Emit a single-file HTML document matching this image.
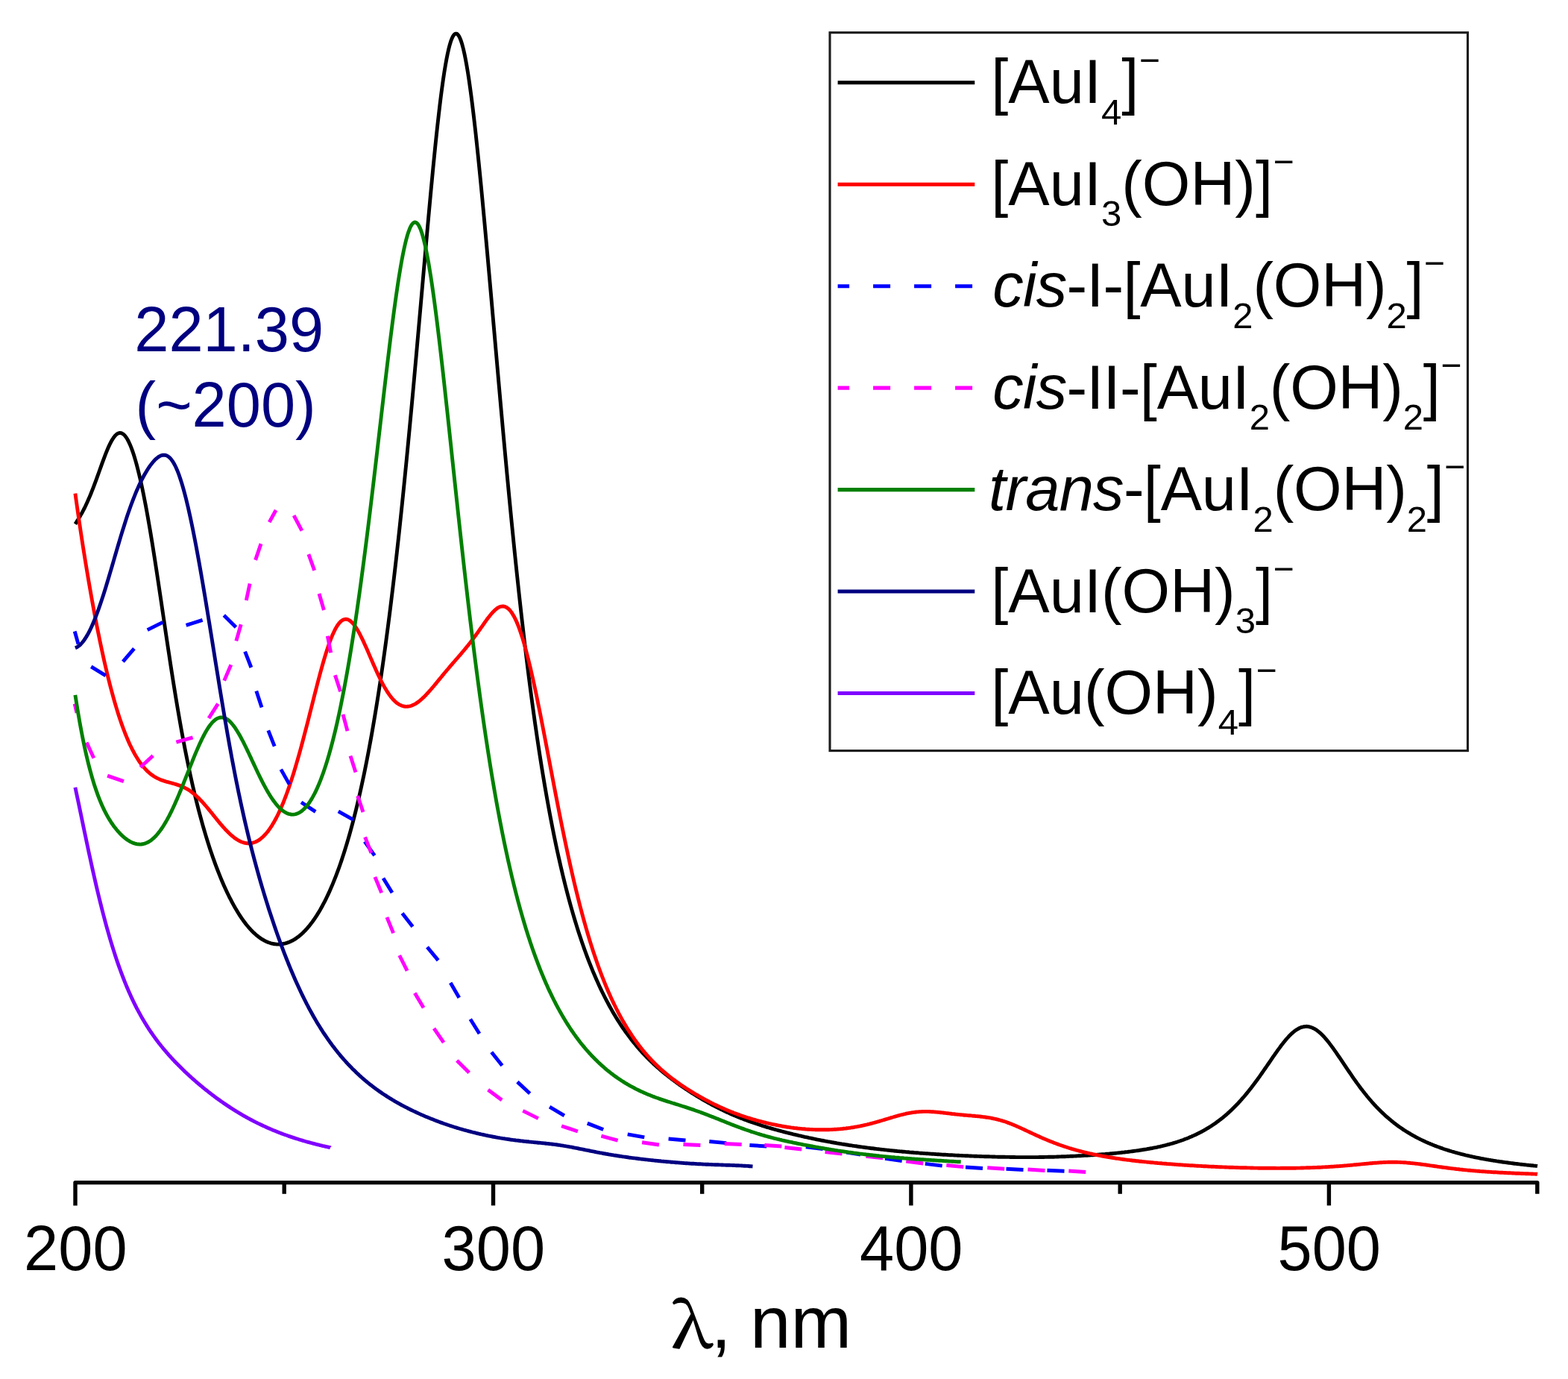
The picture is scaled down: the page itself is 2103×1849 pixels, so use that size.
<!DOCTYPE html>
<html lang="en">
<head>
<meta charset="utf-8">
<title>Calculated absorption spectra of gold(III) iodo-hydroxo complexes</title>
<style>
html,body{margin:0;padding:0;background:#fff;}
body{width:2103px;height:1849px;overflow:hidden;font-family:"Liberation Sans",Arial,sans-serif;}
svg{display:block;}
</style>
</head>
<body>
<svg xmlns="http://www.w3.org/2000/svg" width="2103" height="1849" viewBox="0 0 2103 1849" font-family="'Liberation Sans', Arial, sans-serif" fill="#000">
<rect width="2103" height="1849" fill="#fff"/>
<g id="curves">
<path d="M100.9,702.6 L102.4,700.3 L103.9,697.9 L105.4,695.5 L106.9,693.0 L108.4,690.4 L109.9,687.7 L111.4,684.9 L112.9,682.0 L114.4,679.0 L115.9,675.8 L117.4,672.5 L118.9,669.1 L120.4,665.6 L121.9,662.0 L123.4,658.2 L124.9,654.4 L126.4,650.4 L127.9,646.4 L129.4,642.3 L130.9,638.1 L132.4,634.0 L133.9,629.8 L135.4,625.6 L136.9,621.4 L138.4,617.3 L139.9,613.3 L141.4,609.4 L142.9,605.6 L144.4,602.0 L145.9,598.6 L147.4,595.4 L148.9,592.5 L150.4,589.8 L151.9,587.5 L153.4,585.4 L154.9,583.7 L156.4,582.3 L157.9,581.3 L159.4,580.7 L160.9,580.5 L162.4,580.6 L163.9,581.2 L165.4,582.2 L166.9,583.5 L168.4,585.3 L169.9,587.4 L171.4,590.0 L172.9,592.9 L174.4,596.2 L175.9,599.9 L177.4,603.9 L178.9,608.3 L180.4,613.1 L181.9,618.1 L183.4,623.5 L184.9,629.3 L186.4,635.3 L187.9,641.7 L189.4,648.3 L190.9,655.3 L192.4,662.5 L193.9,670.1 L195.4,677.8 L196.9,685.9 L198.4,694.2 L199.9,702.8 L201.4,711.5 L202.9,720.5 L204.4,729.7 L205.9,739.1 L207.4,748.6 L208.9,758.3 L210.4,768.1 L211.9,778.1 L213.4,788.1 L214.9,798.1 L216.4,808.2 L217.9,818.4 L219.4,828.5 L220.9,838.7 L222.4,848.8 L223.9,858.8 L225.4,868.8 L226.9,878.7 L228.4,888.6 L229.9,898.3 L231.4,907.9 L232.9,917.3 L234.4,926.6 L235.9,935.8 L237.4,944.8 L238.9,953.7 L240.4,962.3 L241.9,970.9 L243.4,979.2 L244.9,987.4 L246.4,995.4 L247.9,1003.2 L249.4,1010.8 L250.9,1018.3 L252.4,1025.6 L253.9,1032.8 L255.4,1039.7 L256.9,1046.5 L258.4,1053.2 L259.9,1059.6 L261.4,1066.0 L262.9,1072.2 L264.4,1078.2 L265.9,1084.1 L267.4,1089.8 L268.9,1095.4 L270.4,1100.9 L271.9,1106.3 L273.4,1111.5 L274.9,1116.6 L276.4,1121.6 L277.9,1126.5 L279.4,1131.2 L280.9,1135.9 L282.4,1140.4 L283.9,1144.8 L285.4,1149.2 L286.9,1153.4 L288.4,1157.6 L289.9,1161.6 L291.4,1165.5 L292.9,1169.4 L294.4,1173.2 L295.9,1176.9 L297.4,1180.5 L298.9,1184.0 L300.4,1187.4 L301.9,1190.7 L303.4,1194.0 L304.9,1197.2 L306.4,1200.3 L307.9,1203.3 L309.4,1206.2 L310.9,1209.1 L312.4,1211.9 L313.9,1214.6 L315.4,1217.3 L316.9,1219.8 L318.4,1222.3 L319.9,1224.7 L321.4,1227.1 L322.9,1229.4 L324.4,1231.6 L325.9,1233.7 L327.4,1235.7 L328.9,1237.7 L330.4,1239.7 L331.9,1241.5 L333.4,1243.3 L334.9,1245.0 L336.4,1246.6 L337.9,1248.2 L339.4,1249.7 L340.9,1251.1 L342.4,1252.5 L343.9,1253.8 L345.4,1255.0 L346.9,1256.2 L348.4,1257.3 L349.9,1258.4 L351.4,1259.3 L352.9,1260.2 L354.4,1261.1 L355.9,1261.8 L357.4,1262.6 L358.9,1263.2 L360.4,1263.8 L361.9,1264.3 L363.4,1264.8 L364.9,1265.1 L366.4,1265.5 L367.9,1265.7 L369.4,1265.9 L370.9,1266.1 L372.4,1266.1 L373.9,1266.1 L375.4,1266.1 L376.9,1266.0 L378.4,1265.8 L379.9,1265.5 L381.4,1265.2 L382.9,1264.9 L384.4,1264.4 L385.9,1263.9 L387.4,1263.4 L388.9,1262.7 L390.4,1262.0 L391.9,1261.3 L393.4,1260.5 L394.9,1259.6 L396.4,1258.6 L397.9,1257.6 L399.4,1256.5 L400.9,1255.4 L402.4,1254.1 L403.9,1252.8 L405.4,1251.5 L406.9,1250.1 L408.4,1248.6 L409.9,1247.0 L411.4,1245.4 L412.9,1243.6 L414.4,1241.9 L415.9,1240.0 L417.4,1238.1 L418.9,1236.1 L420.4,1234.0 L421.9,1231.8 L423.4,1229.6 L424.9,1227.3 L426.4,1224.9 L427.9,1222.4 L429.4,1219.9 L430.9,1217.2 L432.4,1214.5 L433.9,1211.7 L435.4,1208.8 L436.9,1205.9 L438.4,1202.8 L439.9,1199.6 L441.4,1196.4 L442.9,1193.0 L444.4,1189.6 L445.9,1186.1 L447.4,1182.4 L448.9,1178.7 L450.4,1174.9 L451.9,1170.9 L453.4,1166.9 L454.9,1162.7 L456.4,1158.5 L457.9,1154.1 L459.4,1149.6 L460.9,1145.0 L462.4,1140.3 L463.9,1135.4 L465.4,1130.5 L466.9,1125.4 L468.4,1120.2 L469.9,1114.8 L471.4,1109.4 L472.9,1103.8 L474.4,1098.0 L475.9,1092.1 L477.4,1086.1 L478.9,1079.9 L480.4,1073.6 L481.9,1067.2 L483.4,1060.5 L484.9,1053.7 L486.4,1046.8 L487.9,1039.7 L489.4,1032.4 L490.9,1025.0 L492.4,1017.4 L493.9,1009.6 L495.4,1001.6 L496.9,993.5 L498.4,985.2 L499.9,976.6 L501.4,967.9 L502.9,959.0 L504.4,949.9 L505.9,940.6 L507.4,931.1 L508.9,921.4 L510.4,911.5 L511.9,901.3 L513.4,891.0 L514.9,880.4 L516.4,869.6 L517.9,858.6 L519.4,847.3 L520.9,835.9 L522.4,824.2 L523.9,812.2 L525.4,800.0 L526.9,787.6 L528.4,775.0 L529.9,762.1 L531.4,749.0 L532.9,735.6 L534.4,722.0 L535.9,708.2 L537.4,694.1 L538.9,679.8 L540.4,665.3 L541.9,650.5 L543.4,635.6 L544.9,620.4 L546.4,605.0 L547.9,589.3 L549.4,573.5 L550.9,557.6 L552.4,541.4 L553.9,525.1 L555.4,508.6 L556.9,491.9 L558.4,475.2 L559.9,458.3 L561.4,441.4 L562.9,424.4 L564.4,407.4 L565.9,390.3 L567.4,373.2 L568.9,356.2 L570.4,339.2 L571.9,322.4 L573.4,305.6 L574.9,289.0 L576.4,272.7 L577.9,256.5 L579.4,240.7 L580.9,225.1 L582.4,209.9 L583.9,195.1 L585.4,180.8 L586.9,167.0 L588.4,153.7 L589.9,140.9 L591.4,128.8 L592.9,117.4 L594.4,106.7 L595.9,96.7 L597.4,87.6 L598.9,79.2 L600.4,71.7 L601.9,65.1 L603.4,59.4 L604.9,54.6 L606.4,50.8 L607.9,47.9 L609.4,46.0 L610.9,45.1 L612.4,45.1 L613.9,46.2 L615.4,48.2 L616.9,51.1 L618.4,55.0 L619.9,59.8 L621.4,65.5 L622.9,72.1 L624.4,79.5 L625.9,87.7 L627.4,96.7 L628.9,106.4 L630.4,116.8 L631.9,127.9 L633.4,139.6 L634.9,151.9 L636.4,164.7 L637.9,178.1 L639.4,191.9 L640.9,206.2 L642.4,220.9 L643.9,235.9 L645.4,251.3 L646.9,267.0 L648.4,282.9 L649.9,299.1 L651.4,315.5 L652.9,332.0 L654.4,348.7 L655.9,365.6 L657.4,382.5 L658.9,399.5 L660.4,416.6 L661.9,433.7 L663.4,450.8 L664.9,467.9 L666.4,484.9 L667.9,501.9 L669.4,518.9 L670.9,535.7 L672.4,552.5 L673.9,569.1 L675.4,585.7 L676.9,602.1 L678.4,618.3 L679.9,634.4 L681.4,650.3 L682.9,666.0 L684.4,681.6 L685.9,696.9 L687.4,712.1 L688.9,727.0 L690.4,741.7 L691.9,756.2 L693.4,770.5 L694.9,784.6 L696.4,798.5 L697.9,812.1 L699.4,825.5 L700.9,838.6 L702.4,851.5 L703.9,864.2 L705.4,876.7 L706.9,888.9 L708.4,900.9 L709.9,912.7 L711.4,924.3 L712.9,935.6 L714.4,946.7 L715.9,957.6 L717.4,968.3 L718.9,978.7 L720.4,989.0 L721.9,999.0 L723.4,1008.8 L724.9,1018.4 L726.4,1027.9 L727.9,1037.1 L729.4,1046.1 L730.9,1055.0 L732.4,1063.7 L733.9,1072.1 L735.4,1080.4 L736.9,1088.6 L738.4,1096.5 L739.9,1104.3 L741.4,1111.9 L742.9,1119.4 L744.4,1126.7 L745.9,1133.9 L747.4,1140.9 L748.9,1147.7 L750.4,1154.4 L751.9,1161.0 L753.4,1167.4 L754.9,1173.7 L756.4,1179.9 L757.9,1186.0 L759.4,1191.9 L760.9,1197.7 L762.4,1203.3 L763.9,1208.9 L765.4,1214.3 L766.9,1219.6 L768.4,1224.9 L769.9,1230.0 L771.4,1235.0 L772.9,1239.9 L774.4,1244.7 L775.9,1249.4 L777.4,1254.0 L778.9,1258.5 L780.4,1263.0 L781.9,1267.3 L783.4,1271.6 L784.9,1275.8 L786.4,1279.8 L787.9,1283.9 L789.4,1287.8 L790.9,1291.6 L792.4,1295.4 L793.9,1299.1 L795.4,1302.8 L796.9,1306.3 L798.4,1309.8 L799.9,1313.3 L801.4,1316.6 L802.9,1319.9 L804.4,1323.2 L805.9,1326.4 L807.4,1329.5 L808.9,1332.5 L810.4,1335.5 L811.9,1338.5 L813.4,1341.4 L814.9,1344.2 L816.4,1347.0 L817.9,1349.7 L819.4,1352.4 L820.9,1355.1 L822.4,1357.7 L823.9,1360.2 L825.4,1362.7 L826.9,1365.2 L828.4,1367.6 L829.9,1369.9 L831.4,1372.3 L832.9,1374.5 L834.4,1376.8 L835.9,1379.0 L837.4,1381.1 L838.9,1383.3 L840.4,1385.4 L841.9,1387.4 L843.4,1389.4 L844.9,1391.4 L846.4,1393.4 L847.9,1395.3 L849.4,1397.2 L850.9,1399.0 L852.4,1400.8 L853.9,1402.6 L855.4,1404.4 L856.9,1406.1 L858.4,1407.8 L859.9,1409.5 L861.4,1411.1 L862.9,1412.8 L864.4,1414.3 L865.9,1415.9 L867.4,1417.5 L868.9,1419.0 L870.4,1420.5 L871.9,1422.0 L873.4,1423.4 L874.9,1424.8 L876.4,1426.3 L877.9,1427.6 L879.4,1429.0 L880.9,1430.4 L882.4,1431.7 L883.9,1433.0 L885.4,1434.3 L886.9,1435.6 L888.4,1436.8 L889.9,1438.1 L891.4,1439.3 L892.9,1440.5 L894.4,1441.7 L895.9,1442.9 L897.4,1444.1 L898.9,1445.2 L900.4,1446.4 L901.9,1447.5 L903.4,1448.6 L904.9,1449.8 L906.4,1450.8 L907.9,1451.9 L909.4,1453.0 L910.9,1454.1 L912.4,1455.1 L913.9,1456.2 L915.4,1457.2 L916.9,1458.2 L918.4,1459.2 L919.9,1460.3 L921.4,1461.2 L922.9,1462.2 L924.4,1463.2 L925.9,1464.2 L927.4,1465.1 L928.9,1466.1 L930.4,1467.0 L931.9,1468.0 L933.4,1468.9 L934.9,1469.8 L936.4,1470.7 L937.9,1471.6 L939.4,1472.5 L940.9,1473.4 L942.4,1474.3 L943.9,1475.2 L945.4,1476.0 L946.9,1476.9 L948.4,1477.7 L949.9,1478.6 L951.4,1479.4 L952.9,1480.2 L954.4,1481.0 L955.9,1481.8 L957.4,1482.6 L958.9,1483.4 L960.4,1484.2 L961.9,1484.9 L963.4,1485.7 L964.9,1486.4 L966.4,1487.2 L967.9,1487.9 L969.4,1488.6 L970.9,1489.4 L972.4,1490.1 L973.9,1490.8 L975.4,1491.5 L976.9,1492.1 L978.4,1492.8 L979.9,1493.5 L981.4,1494.2 L982.9,1494.8 L984.4,1495.5 L985.9,1496.1 L987.4,1496.7 L988.9,1497.3 L990.4,1498.0 L991.9,1498.6 L993.4,1499.2 L994.9,1499.8 L996.4,1500.3 L997.9,1500.9 L999.4,1501.5 L1000.9,1502.0 L1002.4,1502.6 L1003.9,1503.2 L1005.4,1503.7 L1006.9,1504.2 L1008.4,1504.8 L1009.9,1505.3 L1011.4,1505.8 L1012.9,1506.3 L1014.4,1506.8 L1015.9,1507.3 L1017.4,1507.8 L1018.9,1508.3 L1020.4,1508.8 L1021.9,1509.3 L1023.4,1509.7 L1024.9,1510.2 L1026.4,1510.6 L1027.9,1511.1 L1029.4,1511.6 L1030.9,1512.0 L1032.4,1512.4 L1033.9,1512.9 L1035.4,1513.3 L1036.9,1513.7 L1038.4,1514.2 L1039.9,1514.6 L1041.4,1515.0 L1042.9,1515.4 L1044.4,1515.8 L1045.9,1516.2 L1047.4,1516.6 L1048.9,1517.0 L1050.4,1517.4 L1051.9,1517.8 L1053.4,1518.2 L1054.9,1518.6 L1056.4,1518.9 L1057.9,1519.3 L1059.4,1519.7 L1060.9,1520.0 L1062.4,1520.4 L1063.9,1520.8 L1065.4,1521.1 L1066.9,1521.5 L1068.4,1521.8 L1069.9,1522.2 L1071.4,1522.6 L1072.9,1522.9 L1074.4,1523.2 L1075.9,1523.6 L1077.4,1523.9 L1078.9,1524.3 L1080.4,1524.6 L1081.9,1524.9 L1083.4,1525.2 L1084.9,1525.6 L1086.4,1525.9 L1087.9,1526.2 L1089.4,1526.5 L1090.9,1526.8 L1092.4,1527.1 L1093.9,1527.5 L1095.4,1527.8 L1096.9,1528.1 L1098.4,1528.4 L1099.9,1528.7 L1101.4,1529.0 L1102.9,1529.2 L1104.4,1529.5 L1105.9,1529.8 L1107.4,1530.1 L1108.9,1530.4 L1110.4,1530.7 L1111.9,1530.9 L1113.4,1531.2 L1114.9,1531.5 L1116.4,1531.8 L1117.9,1532.0 L1119.4,1532.3 L1120.9,1532.5 L1122.4,1532.8 L1123.9,1533.1 L1125.4,1533.3 L1126.9,1533.6 L1128.4,1533.8 L1129.9,1534.1 L1131.4,1534.3 L1132.9,1534.5 L1134.4,1534.8 L1135.9,1535.0 L1137.4,1535.2 L1138.9,1535.5 L1140.4,1535.7 L1141.9,1535.9 L1143.4,1536.2 L1144.9,1536.4 L1146.4,1536.6 L1147.9,1536.8 L1149.4,1537.0 L1150.9,1537.3 L1152.4,1537.5 L1153.9,1537.7 L1155.4,1537.9 L1156.9,1538.1 L1158.4,1538.3 L1159.9,1538.5 L1161.4,1538.7 L1162.9,1538.9 L1164.4,1539.1 L1165.9,1539.3 L1167.4,1539.5 L1168.9,1539.7 L1170.4,1539.8 L1171.9,1540.0 L1173.4,1540.2 L1174.9,1540.4 L1176.4,1540.6 L1177.9,1540.7 L1179.4,1540.9 L1180.9,1541.1 L1182.4,1541.3 L1183.9,1541.4 L1185.4,1541.6 L1186.9,1541.8 L1188.4,1541.9 L1189.9,1542.1 L1191.4,1542.2 L1192.9,1542.4 L1194.4,1542.6 L1195.9,1542.7 L1197.4,1542.9 L1198.9,1543.0 L1200.4,1543.2 L1201.9,1543.3 L1203.4,1543.5 L1204.9,1543.6 L1206.4,1543.8 L1207.9,1543.9 L1209.4,1544.0 L1210.9,1544.2 L1212.4,1544.3 L1213.9,1544.4 L1215.4,1544.6 L1216.9,1544.7 L1218.4,1544.8 L1219.9,1545.0 L1221.4,1545.1 L1222.9,1545.2 L1224.4,1545.3 L1225.9,1545.5 L1227.4,1545.6 L1228.9,1545.7 L1230.4,1545.8 L1231.9,1545.9 L1233.4,1546.1 L1234.9,1546.2 L1236.4,1546.3 L1237.9,1546.4 L1239.4,1546.5 L1240.9,1546.6 L1242.4,1546.7 L1243.9,1546.8 L1245.4,1546.9 L1246.9,1547.0 L1248.4,1547.1 L1249.9,1547.2 L1251.4,1547.3 L1252.9,1547.4 L1254.4,1547.5 L1255.9,1547.6 L1257.4,1547.7 L1258.9,1547.8 L1260.4,1547.9 L1261.9,1548.0 L1263.4,1548.1 L1264.9,1548.2 L1266.4,1548.3 L1267.9,1548.3 L1269.4,1548.4 L1270.9,1548.5 L1272.4,1548.6 L1273.9,1548.7 L1275.4,1548.8 L1276.9,1548.8 L1278.4,1548.9 L1279.9,1549.0 L1281.4,1549.1 L1282.9,1549.1 L1284.4,1549.2 L1285.9,1549.3 L1287.4,1549.4 L1288.9,1549.4 L1290.4,1549.5 L1291.9,1549.6 L1293.4,1549.6 L1294.9,1549.7 L1296.4,1549.8 L1297.9,1549.8 L1299.4,1549.9 L1300.9,1550.0 L1302.4,1550.0 L1303.9,1550.1 L1305.4,1550.1 L1306.9,1550.2 L1308.4,1550.2 L1309.9,1550.3 L1311.4,1550.4 L1312.9,1550.4 L1314.4,1550.5 L1315.9,1550.5 L1317.4,1550.6 L1318.9,1550.6 L1320.4,1550.7 L1321.9,1550.7 L1323.4,1550.8 L1324.9,1550.8 L1326.4,1550.8 L1327.9,1550.9 L1329.4,1550.9 L1330.9,1551.0 L1332.4,1551.0 L1333.9,1551.0 L1335.4,1551.1 L1336.9,1551.1 L1338.4,1551.2 L1339.9,1551.2 L1341.4,1551.2 L1342.9,1551.3 L1344.4,1551.3 L1345.9,1551.3 L1347.4,1551.3 L1348.9,1551.4 L1350.4,1551.4 L1351.9,1551.4 L1353.4,1551.4 L1354.9,1551.5 L1356.4,1551.5 L1357.9,1551.5 L1359.4,1551.5 L1360.9,1551.5 L1362.4,1551.6 L1363.9,1551.6 L1365.4,1551.6 L1366.9,1551.6 L1368.4,1551.6 L1369.9,1551.6 L1371.4,1551.6 L1372.9,1551.6 L1374.4,1551.6 L1375.9,1551.6 L1377.4,1551.6 L1378.9,1551.6 L1380.4,1551.6 L1381.9,1551.6 L1383.4,1551.6 L1384.9,1551.6 L1386.4,1551.6 L1387.9,1551.6 L1389.4,1551.6 L1390.9,1551.6 L1392.4,1551.6 L1393.9,1551.5 L1395.4,1551.5 L1396.9,1551.5 L1398.4,1551.5 L1399.9,1551.5 L1401.4,1551.4 L1402.9,1551.4 L1404.4,1551.4 L1405.9,1551.3 L1407.4,1551.3 L1408.9,1551.3 L1410.4,1551.2 L1411.9,1551.2 L1413.4,1551.2 L1414.9,1551.1 L1416.4,1551.1 L1417.9,1551.0 L1419.4,1551.0 L1420.9,1550.9 L1422.4,1550.9 L1423.9,1550.8 L1425.4,1550.8 L1426.9,1550.7 L1428.4,1550.7 L1429.9,1550.6 L1431.4,1550.5 L1432.9,1550.5 L1434.4,1550.4 L1435.9,1550.3 L1437.4,1550.3 L1438.9,1550.2 L1440.4,1550.1 L1441.9,1550.1 L1443.4,1550.0 L1444.9,1549.9 L1446.4,1549.8 L1447.9,1549.8 L1449.4,1549.7 L1450.9,1549.6 L1452.4,1549.5 L1453.9,1549.4 L1455.4,1549.3 L1456.9,1549.2 L1458.4,1549.2 L1459.9,1549.1 L1461.4,1549.0 L1462.9,1548.9 L1464.4,1548.8 L1465.9,1548.7 L1467.4,1548.6 L1468.9,1548.5 L1470.4,1548.4 L1471.9,1548.3 L1473.4,1548.2 L1474.9,1548.0 L1476.4,1547.9 L1477.9,1547.8 L1479.4,1547.7 L1480.9,1547.6 L1482.4,1547.5 L1483.9,1547.3 L1485.4,1547.2 L1486.9,1547.1 L1488.4,1546.9 L1489.9,1546.8 L1491.4,1546.7 L1492.9,1546.5 L1494.4,1546.4 L1495.9,1546.2 L1497.4,1546.1 L1498.9,1545.9 L1500.4,1545.8 L1501.9,1545.6 L1503.4,1545.5 L1504.9,1545.3 L1506.4,1545.1 L1507.9,1545.0 L1509.4,1544.8 L1510.9,1544.6 L1512.4,1544.5 L1513.9,1544.3 L1515.4,1544.1 L1516.9,1543.9 L1518.4,1543.7 L1519.9,1543.5 L1521.4,1543.3 L1522.9,1543.1 L1524.4,1542.9 L1525.9,1542.7 L1527.4,1542.5 L1528.9,1542.2 L1530.4,1542.0 L1531.9,1541.8 L1533.4,1541.5 L1534.9,1541.3 L1536.4,1541.1 L1537.9,1540.8 L1539.4,1540.5 L1540.9,1540.3 L1542.4,1540.0 L1543.9,1539.7 L1545.4,1539.5 L1546.9,1539.2 L1548.4,1538.9 L1549.9,1538.6 L1551.4,1538.3 L1552.9,1537.9 L1554.4,1537.6 L1555.9,1537.3 L1557.4,1536.9 L1558.9,1536.6 L1560.4,1536.2 L1561.9,1535.9 L1563.4,1535.5 L1564.9,1535.1 L1566.4,1534.7 L1567.9,1534.3 L1569.4,1533.9 L1570.9,1533.5 L1572.4,1533.1 L1573.9,1532.6 L1575.4,1532.2 L1576.9,1531.7 L1578.4,1531.3 L1579.9,1530.8 L1581.4,1530.3 L1582.9,1529.8 L1584.4,1529.2 L1585.9,1528.7 L1587.4,1528.2 L1588.9,1527.6 L1590.4,1527.0 L1591.9,1526.5 L1593.4,1525.9 L1594.9,1525.2 L1596.4,1524.6 L1597.9,1524.0 L1599.4,1523.3 L1600.9,1522.6 L1602.4,1522.0 L1603.9,1521.3 L1605.4,1520.5 L1606.9,1519.8 L1608.4,1519.0 L1609.9,1518.3 L1611.4,1517.5 L1612.9,1516.7 L1614.4,1515.8 L1615.9,1515.0 L1617.4,1514.1 L1618.9,1513.2 L1620.4,1512.3 L1621.9,1511.4 L1623.4,1510.5 L1624.9,1509.5 L1626.4,1508.5 L1627.9,1507.5 L1629.4,1506.5 L1630.9,1505.4 L1632.4,1504.3 L1633.9,1503.2 L1635.4,1502.1 L1636.9,1500.9 L1638.4,1499.8 L1639.9,1498.6 L1641.4,1497.3 L1642.9,1496.1 L1644.4,1494.8 L1645.9,1493.5 L1647.4,1492.1 L1648.9,1490.8 L1650.4,1489.4 L1651.9,1488.0 L1653.4,1486.5 L1654.9,1485.0 L1656.4,1483.5 L1657.9,1482.0 L1659.4,1480.4 L1660.9,1478.9 L1662.4,1477.2 L1663.9,1475.6 L1665.4,1473.9 L1666.9,1472.2 L1668.4,1470.5 L1669.9,1468.7 L1671.4,1466.9 L1672.9,1465.1 L1674.4,1463.2 L1675.9,1461.3 L1677.4,1459.4 L1678.9,1457.5 L1680.4,1455.5 L1681.9,1453.6 L1683.4,1451.5 L1684.9,1449.5 L1686.4,1447.5 L1687.9,1445.4 L1689.4,1443.3 L1690.9,1441.2 L1692.4,1439.0 L1693.9,1436.9 L1695.4,1434.7 L1696.9,1432.5 L1698.4,1430.4 L1699.9,1428.2 L1701.4,1426.0 L1702.9,1423.8 L1704.4,1421.6 L1705.9,1419.4 L1707.4,1417.2 L1708.9,1415.1 L1710.4,1412.9 L1711.9,1410.8 L1713.4,1408.7 L1714.9,1406.6 L1716.4,1404.6 L1717.9,1402.5 L1719.4,1400.6 L1720.9,1398.6 L1722.4,1396.8 L1723.9,1394.9 L1725.4,1393.2 L1726.9,1391.5 L1728.4,1389.8 L1729.9,1388.3 L1731.4,1386.8 L1732.9,1385.4 L1734.4,1384.1 L1735.9,1382.9 L1737.4,1381.7 L1738.9,1380.7 L1740.4,1379.8 L1741.9,1379.0 L1743.4,1378.2 L1744.9,1377.6 L1746.4,1377.1 L1747.9,1376.8 L1749.4,1376.5 L1750.9,1376.4 L1752.4,1376.3 L1753.9,1376.4 L1755.4,1376.7 L1756.9,1377.0 L1758.4,1377.4 L1759.9,1378.0 L1761.4,1378.7 L1762.9,1379.4 L1764.4,1380.3 L1765.9,1381.3 L1767.4,1382.4 L1768.9,1383.6 L1770.4,1384.9 L1771.9,1386.3 L1773.4,1387.8 L1774.9,1389.3 L1776.4,1390.9 L1777.9,1392.6 L1779.4,1394.4 L1780.9,1396.2 L1782.4,1398.1 L1783.9,1400.1 L1785.4,1402.1 L1786.9,1404.1 L1788.4,1406.2 L1789.9,1408.3 L1791.4,1410.4 L1792.9,1412.6 L1794.4,1414.8 L1795.9,1417.0 L1797.4,1419.2 L1798.9,1421.4 L1800.4,1423.7 L1801.9,1425.9 L1803.4,1428.1 L1804.9,1430.4 L1806.4,1432.6 L1807.9,1434.8 L1809.4,1437.0 L1810.9,1439.2 L1812.4,1441.4 L1813.9,1443.6 L1815.4,1445.8 L1816.9,1447.9 L1818.4,1450.0 L1819.9,1452.1 L1821.4,1454.1 L1822.9,1456.2 L1824.4,1458.2 L1825.9,1460.2 L1827.4,1462.1 L1828.9,1464.1 L1830.4,1466.0 L1831.9,1467.8 L1833.4,1469.7 L1834.9,1471.5 L1836.4,1473.3 L1837.9,1475.0 L1839.4,1476.8 L1840.9,1478.5 L1842.4,1480.1 L1843.9,1481.8 L1845.4,1483.4 L1846.9,1484.9 L1848.4,1486.5 L1849.9,1488.0 L1851.4,1489.5 L1852.9,1491.0 L1854.4,1492.4 L1855.9,1493.8 L1857.4,1495.2 L1858.9,1496.6 L1860.4,1497.9 L1861.9,1499.2 L1863.4,1500.5 L1864.9,1501.7 L1866.4,1503.0 L1867.9,1504.2 L1869.4,1505.4 L1870.9,1506.5 L1872.4,1507.7 L1873.9,1508.8 L1875.4,1509.9 L1876.9,1511.0 L1878.4,1512.0 L1879.9,1513.0 L1881.4,1514.1 L1882.9,1515.1 L1884.4,1516.0 L1885.9,1517.0 L1887.4,1517.9 L1888.9,1518.8 L1890.4,1519.7 L1891.9,1520.6 L1893.4,1521.5 L1894.9,1522.3 L1896.4,1523.2 L1897.9,1524.0 L1899.4,1524.8 L1900.9,1525.6 L1902.4,1526.4 L1903.9,1527.1 L1905.4,1527.9 L1906.9,1528.6 L1908.4,1529.3 L1909.9,1530.0 L1911.4,1530.7 L1912.9,1531.4 L1914.4,1532.0 L1915.9,1532.7 L1917.4,1533.3 L1918.9,1534.0 L1920.4,1534.6 L1921.9,1535.2 L1923.4,1535.8 L1924.9,1536.4 L1926.4,1536.9 L1927.9,1537.5 L1929.4,1538.0 L1930.9,1538.6 L1932.4,1539.1 L1933.9,1539.6 L1935.4,1540.2 L1936.9,1540.7 L1938.4,1541.2 L1939.9,1541.7 L1941.4,1542.1 L1942.9,1542.6 L1944.4,1543.1 L1945.9,1543.5 L1947.4,1544.0 L1948.9,1544.4 L1950.4,1544.8 L1951.9,1545.3 L1953.4,1545.7 L1954.9,1546.1 L1956.4,1546.5 L1957.9,1546.9 L1959.4,1547.3 L1960.9,1547.7 L1962.4,1548.0 L1963.9,1548.4 L1965.4,1548.8 L1966.9,1549.1 L1968.4,1549.5 L1969.9,1549.8 L1971.4,1550.2 L1972.9,1550.5 L1974.4,1550.8 L1975.9,1551.2 L1977.4,1551.5 L1978.9,1551.8 L1980.4,1552.1 L1981.9,1552.4 L1983.4,1552.7 L1984.9,1553.0 L1986.4,1553.3 L1987.9,1553.6 L1989.4,1553.8 L1990.9,1554.1 L1992.4,1554.4 L1993.9,1554.7 L1995.4,1554.9 L1996.9,1555.2 L1998.4,1555.4 L1999.9,1555.7 L2001.4,1555.9 L2002.9,1556.2 L2004.4,1556.4 L2005.9,1556.6 L2007.4,1556.9 L2008.9,1557.1 L2010.4,1557.3 L2011.9,1557.6 L2013.4,1557.8 L2014.9,1558.0 L2016.4,1558.2 L2017.9,1558.4 L2019.4,1558.6 L2020.9,1558.8 L2022.4,1559.0 L2023.9,1559.2 L2025.4,1559.4 L2026.9,1559.6 L2028.4,1559.8 L2029.9,1560.0 L2031.4,1560.2 L2032.9,1560.4 L2034.4,1560.5 L2035.9,1560.7 L2037.4,1560.9 L2038.9,1561.1 L2040.4,1561.2 L2041.9,1561.4 L2043.4,1561.6 L2044.9,1561.7 L2046.4,1561.9 L2047.9,1562.1 L2049.4,1562.2 L2050.9,1562.4 L2052.4,1562.5 L2053.9,1562.7 L2055.4,1562.8 L2056.9,1563.0 L2058.4,1563.1 L2059.9,1563.3 L2061.4,1563.4 L2062.0,1563.5" fill="none" stroke="#000000" stroke-width="4.9" stroke-linejoin="round" stroke-linecap="butt"/>
<path d="M100.9,661.7 L102.4,672.5 L103.9,683.1 L105.4,693.5 L106.9,703.7 L108.4,713.8 L109.9,723.6 L111.4,733.3 L112.9,742.7 L114.4,752.1 L115.9,761.2 L117.4,770.2 L118.9,779.0 L120.4,787.7 L121.9,796.2 L123.4,804.6 L124.9,812.8 L126.4,820.9 L127.9,828.8 L129.4,836.6 L130.9,844.2 L132.4,851.6 L133.9,859.0 L135.4,866.1 L136.9,873.1 L138.4,880.0 L139.9,886.7 L141.4,893.2 L142.9,899.6 L144.4,905.8 L145.9,911.9 L147.4,917.8 L148.9,923.6 L150.4,929.2 L151.9,934.7 L153.4,940.0 L154.9,945.1 L156.4,950.1 L157.9,955.0 L159.4,959.7 L160.9,964.2 L162.4,968.6 L163.9,972.9 L165.4,977.0 L166.9,980.9 L168.4,984.8 L169.9,988.4 L171.4,992.0 L172.9,995.4 L174.4,998.7 L175.9,1001.8 L177.4,1004.8 L178.9,1007.7 L180.4,1010.5 L181.9,1013.1 L183.4,1015.6 L184.9,1018.0 L186.4,1020.3 L187.9,1022.5 L189.4,1024.5 L190.9,1026.5 L192.4,1028.3 L193.9,1030.0 L195.4,1031.7 L196.9,1033.2 L198.4,1034.7 L199.9,1036.0 L201.4,1037.3 L202.9,1038.4 L204.4,1039.5 L205.9,1040.6 L207.4,1041.5 L208.9,1042.4 L210.4,1043.2 L211.9,1043.9 L213.4,1044.6 L214.9,1045.3 L216.4,1045.9 L217.9,1046.4 L219.4,1046.9 L220.9,1047.4 L222.4,1047.9 L223.9,1048.3 L225.4,1048.7 L226.9,1049.1 L228.4,1049.5 L229.9,1049.9 L231.4,1050.3 L232.9,1050.7 L234.4,1051.2 L235.9,1051.6 L237.4,1052.1 L238.9,1052.6 L240.4,1053.1 L241.9,1053.6 L243.4,1054.2 L244.9,1054.9 L246.4,1055.6 L247.9,1056.3 L249.4,1057.1 L250.9,1057.9 L252.4,1058.8 L253.9,1059.8 L255.4,1060.8 L256.9,1061.9 L258.4,1063.1 L259.9,1064.3 L261.4,1065.5 L262.9,1066.8 L264.4,1068.2 L265.9,1069.6 L267.4,1071.1 L268.9,1072.7 L270.4,1074.3 L271.9,1075.9 L273.4,1077.6 L274.9,1079.3 L276.4,1081.0 L277.9,1082.8 L279.4,1084.6 L280.9,1086.4 L282.4,1088.3 L283.9,1090.1 L285.4,1092.0 L286.9,1093.9 L288.4,1095.7 L289.9,1097.6 L291.4,1099.4 L292.9,1101.3 L294.4,1103.1 L295.9,1104.9 L297.4,1106.6 L298.9,1108.4 L300.4,1110.0 L301.9,1111.7 L303.4,1113.3 L304.9,1114.8 L306.4,1116.3 L307.9,1117.8 L309.4,1119.2 L310.9,1120.5 L312.4,1121.7 L313.9,1122.9 L315.4,1124.0 L316.9,1125.1 L318.4,1126.0 L319.9,1126.9 L321.4,1127.7 L322.9,1128.4 L324.4,1129.0 L325.9,1129.5 L327.4,1130.0 L328.9,1130.3 L330.4,1130.6 L331.9,1130.7 L333.4,1130.8 L334.9,1130.7 L336.4,1130.6 L337.9,1130.3 L339.4,1130.0 L340.9,1129.5 L342.4,1129.0 L343.9,1128.3 L345.4,1127.5 L346.9,1126.6 L348.4,1125.6 L349.9,1124.4 L351.4,1123.2 L352.9,1121.8 L354.4,1120.3 L355.9,1118.7 L357.4,1117.0 L358.9,1115.2 L360.4,1113.2 L361.9,1111.1 L363.4,1108.9 L364.9,1106.6 L366.4,1104.1 L367.9,1101.5 L369.4,1098.8 L370.9,1096.0 L372.4,1093.0 L373.9,1089.9 L375.4,1086.6 L376.9,1083.3 L378.4,1079.8 L379.9,1076.2 L381.4,1072.4 L382.9,1068.5 L384.4,1064.5 L385.9,1060.4 L387.4,1056.1 L388.9,1051.7 L390.4,1047.2 L391.9,1042.6 L393.4,1037.9 L394.9,1033.0 L396.4,1028.0 L397.9,1022.9 L399.4,1017.7 L400.9,1012.5 L402.4,1007.1 L403.9,1001.6 L405.4,996.0 L406.9,990.4 L408.4,984.7 L409.9,978.9 L411.4,973.1 L412.9,967.3 L414.4,961.4 L415.9,955.4 L417.4,949.5 L418.9,943.6 L420.4,937.6 L421.9,931.7 L423.4,925.8 L424.9,920.0 L426.4,914.2 L427.9,908.5 L429.4,902.9 L430.9,897.4 L432.4,892.0 L433.9,886.8 L435.4,881.7 L436.9,876.8 L438.4,872.0 L439.9,867.5 L441.4,863.1 L442.9,859.0 L444.4,855.2 L445.9,851.5 L447.4,848.2 L448.9,845.1 L450.4,842.2 L451.9,839.7 L453.4,837.5 L454.9,835.5 L456.4,833.9 L457.9,832.5 L459.4,831.5 L460.9,830.8 L462.4,830.4 L463.9,830.2 L465.4,830.4 L466.9,830.9 L468.4,831.6 L469.9,832.6 L471.4,833.9 L472.9,835.4 L474.4,837.1 L475.9,839.1 L477.4,841.3 L478.9,843.6 L480.4,846.2 L481.9,848.9 L483.4,851.8 L484.9,854.8 L486.4,857.9 L487.9,861.1 L489.4,864.4 L490.9,867.7 L492.4,871.1 L493.9,874.6 L495.4,878.1 L496.9,881.6 L498.4,885.0 L499.9,888.5 L501.4,891.9 L502.9,895.3 L504.4,898.7 L505.9,902.0 L507.4,905.2 L508.9,908.3 L510.4,911.4 L511.9,914.3 L513.4,917.2 L514.9,919.9 L516.4,922.6 L517.9,925.1 L519.4,927.5 L520.9,929.7 L522.4,931.9 L523.9,933.9 L525.4,935.7 L526.9,937.5 L528.4,939.0 L529.9,940.5 L531.4,941.8 L532.9,943.0 L534.4,944.0 L535.9,944.9 L537.4,945.6 L538.9,946.2 L540.4,946.7 L541.9,947.1 L543.4,947.3 L544.9,947.4 L546.4,947.3 L547.9,947.1 L549.4,946.9 L550.9,946.5 L552.4,946.0 L553.9,945.3 L555.4,944.6 L556.9,943.8 L558.4,942.9 L559.9,941.9 L561.4,940.8 L562.9,939.6 L564.4,938.3 L565.9,937.0 L567.4,935.6 L568.9,934.2 L570.4,932.7 L571.9,931.1 L573.4,929.5 L574.9,927.9 L576.4,926.2 L577.9,924.5 L579.4,922.7 L580.9,921.0 L582.4,919.2 L583.9,917.4 L585.4,915.6 L586.9,913.7 L588.4,911.9 L589.9,910.1 L591.4,908.3 L592.9,906.4 L594.4,904.6 L595.9,902.8 L597.4,901.0 L598.9,899.2 L600.4,897.5 L601.9,895.7 L603.4,893.9 L604.9,892.2 L606.4,890.4 L607.9,888.7 L609.4,887.0 L610.9,885.2 L612.4,883.5 L613.9,881.8 L615.4,880.0 L616.9,878.3 L618.4,876.6 L619.9,874.8 L621.4,873.0 L622.9,871.2 L624.4,869.4 L625.9,867.6 L627.4,865.7 L628.9,863.9 L630.4,861.9 L631.9,860.0 L633.4,858.0 L634.9,856.0 L636.4,854.0 L637.9,852.0 L639.4,849.9 L640.9,847.8 L642.4,845.7 L643.9,843.5 L645.4,841.4 L646.9,839.3 L648.4,837.1 L649.9,835.0 L651.4,832.9 L652.9,830.8 L654.4,828.8 L655.9,826.9 L657.4,825.0 L658.9,823.2 L660.4,821.5 L661.9,819.9 L663.4,818.4 L664.9,817.1 L666.4,815.9 L667.9,814.9 L669.4,814.1 L670.9,813.5 L672.4,813.1 L673.9,813.0 L675.4,813.0 L676.9,813.3 L678.4,813.9 L679.9,814.8 L681.4,815.9 L682.9,817.3 L684.4,818.9 L685.9,820.9 L687.4,823.2 L688.9,825.7 L690.4,828.5 L691.9,831.6 L693.4,835.0 L694.9,838.7 L696.4,842.7 L697.9,846.9 L699.4,851.4 L700.9,856.1 L702.4,861.1 L703.9,866.3 L705.4,871.8 L706.9,877.5 L708.4,883.4 L709.9,889.5 L711.4,895.7 L712.9,902.2 L714.4,908.8 L715.9,915.6 L717.4,922.6 L718.9,929.6 L720.4,936.8 L721.9,944.2 L723.4,951.6 L724.9,959.1 L726.4,966.7 L727.9,974.4 L729.4,982.1 L730.9,989.9 L732.4,997.7 L733.9,1005.6 L735.4,1013.4 L736.9,1021.3 L738.4,1029.2 L739.9,1037.0 L741.4,1044.9 L742.9,1052.7 L744.4,1060.5 L745.9,1068.3 L747.4,1076.0 L748.9,1083.6 L750.4,1091.2 L751.9,1098.7 L753.4,1106.2 L754.9,1113.5 L756.4,1120.8 L757.9,1128.0 L759.4,1135.1 L760.9,1142.1 L762.4,1149.1 L763.9,1155.9 L765.4,1162.6 L766.9,1169.2 L768.4,1175.7 L769.9,1182.2 L771.4,1188.5 L772.9,1194.7 L774.4,1200.7 L775.9,1206.7 L777.4,1212.6 L778.9,1218.4 L780.4,1224.0 L781.9,1229.6 L783.4,1235.0 L784.9,1240.4 L786.4,1245.6 L787.9,1250.8 L789.4,1255.8 L790.9,1260.7 L792.4,1265.6 L793.9,1270.3 L795.4,1274.9 L796.9,1279.5 L798.4,1283.9 L799.9,1288.3 L801.4,1292.6 L802.9,1296.8 L804.4,1300.9 L805.9,1304.9 L807.4,1308.8 L808.9,1312.6 L810.4,1316.4 L811.9,1320.1 L813.4,1323.7 L814.9,1327.3 L816.4,1330.7 L817.9,1334.1 L819.4,1337.4 L820.9,1340.7 L822.4,1343.9 L823.9,1347.0 L825.4,1350.0 L826.9,1353.0 L828.4,1355.9 L829.9,1358.8 L831.4,1361.6 L832.9,1364.4 L834.4,1367.1 L835.9,1369.7 L837.4,1372.3 L838.9,1374.8 L840.4,1377.3 L841.9,1379.7 L843.4,1382.1 L844.9,1384.4 L846.4,1386.7 L847.9,1389.0 L849.4,1391.2 L850.9,1393.3 L852.4,1395.4 L853.9,1397.5 L855.4,1399.5 L856.9,1401.5 L858.4,1403.4 L859.9,1405.4 L861.4,1407.2 L862.9,1409.1 L864.4,1410.9 L865.9,1412.6 L867.4,1414.3 L868.9,1416.0 L870.4,1417.7 L871.9,1419.3 L873.4,1420.9 L874.9,1422.5 L876.4,1424.0 L877.9,1425.6 L879.4,1427.0 L880.9,1428.5 L882.4,1429.9 L883.9,1431.3 L885.4,1432.7 L886.9,1434.1 L888.4,1435.4 L889.9,1436.7 L891.4,1438.0 L892.9,1439.2 L894.4,1440.5 L895.9,1441.7 L897.4,1442.9 L898.9,1444.1 L900.4,1445.3 L901.9,1446.4 L903.4,1447.5 L904.9,1448.6 L906.4,1449.7 L907.9,1450.8 L909.4,1451.9 L910.9,1452.9 L912.4,1454.0 L913.9,1455.0 L915.4,1456.0 L916.9,1457.0 L918.4,1458.0 L919.9,1459.0 L921.4,1460.0 L922.9,1460.9 L924.4,1461.9 L925.9,1462.8 L927.4,1463.7 L928.9,1464.7 L930.4,1465.6 L931.9,1466.5 L933.4,1467.4 L934.9,1468.2 L936.4,1469.1 L937.9,1470.0 L939.4,1470.8 L940.9,1471.7 L942.4,1472.5 L943.9,1473.3 L945.4,1474.1 L946.9,1475.0 L948.4,1475.8 L949.9,1476.5 L951.4,1477.3 L952.9,1478.1 L954.4,1478.9 L955.9,1479.6 L957.4,1480.4 L958.9,1481.1 L960.4,1481.8 L961.9,1482.5 L963.4,1483.2 L964.9,1483.9 L966.4,1484.6 L967.9,1485.3 L969.4,1486.0 L970.9,1486.6 L972.4,1487.3 L973.9,1487.9 L975.4,1488.6 L976.9,1489.2 L978.4,1489.8 L979.9,1490.4 L981.4,1491.0 L982.9,1491.6 L984.4,1492.2 L985.9,1492.7 L987.4,1493.3 L988.9,1493.9 L990.4,1494.4 L991.9,1494.9 L993.4,1495.5 L994.9,1496.0 L996.4,1496.5 L997.9,1497.0 L999.4,1497.5 L1000.9,1498.0 L1002.4,1498.5 L1003.9,1498.9 L1005.4,1499.4 L1006.9,1499.9 L1008.4,1500.3 L1009.9,1500.8 L1011.4,1501.2 L1012.9,1501.6 L1014.4,1502.1 L1015.9,1502.5 L1017.4,1502.9 L1018.9,1503.3 L1020.4,1503.7 L1021.9,1504.1 L1023.4,1504.5 L1024.9,1504.8 L1026.4,1505.2 L1027.9,1505.6 L1029.4,1505.9 L1030.9,1506.3 L1032.4,1506.6 L1033.9,1507.0 L1035.4,1507.3 L1036.9,1507.6 L1038.4,1507.9 L1039.9,1508.2 L1041.4,1508.5 L1042.9,1508.8 L1044.4,1509.1 L1045.9,1509.4 L1047.4,1509.7 L1048.9,1510.0 L1050.4,1510.2 L1051.9,1510.5 L1053.4,1510.7 L1054.9,1511.0 L1056.4,1511.2 L1057.9,1511.4 L1059.4,1511.6 L1060.9,1511.9 L1062.4,1512.1 L1063.9,1512.3 L1065.4,1512.5 L1066.9,1512.6 L1068.4,1512.8 L1069.9,1513.0 L1071.4,1513.1 L1072.9,1513.3 L1074.4,1513.4 L1075.9,1513.6 L1077.4,1513.7 L1078.9,1513.8 L1080.4,1514.0 L1081.9,1514.1 L1083.4,1514.2 L1084.9,1514.3 L1086.4,1514.4 L1087.9,1514.4 L1089.4,1514.5 L1090.9,1514.6 L1092.4,1514.6 L1093.9,1514.7 L1095.4,1514.7 L1096.9,1514.8 L1098.4,1514.8 L1099.9,1514.8 L1101.4,1514.8 L1102.9,1514.8 L1104.4,1514.8 L1105.9,1514.8 L1107.4,1514.8 L1108.9,1514.8 L1110.4,1514.7 L1111.9,1514.7 L1113.4,1514.6 L1114.9,1514.6 L1116.4,1514.5 L1117.9,1514.4 L1119.4,1514.3 L1120.9,1514.2 L1122.4,1514.1 L1123.9,1514.0 L1125.4,1513.9 L1126.9,1513.8 L1128.4,1513.6 L1129.9,1513.5 L1131.4,1513.3 L1132.9,1513.1 L1134.4,1513.0 L1135.9,1512.8 L1137.4,1512.6 L1138.9,1512.4 L1140.4,1512.2 L1141.9,1511.9 L1143.4,1511.7 L1144.9,1511.5 L1146.4,1511.2 L1147.9,1510.9 L1149.4,1510.7 L1150.9,1510.4 L1152.4,1510.1 L1153.9,1509.8 L1155.4,1509.5 L1156.9,1509.2 L1158.4,1508.8 L1159.9,1508.5 L1161.4,1508.1 L1162.9,1507.8 L1164.4,1507.4 L1165.9,1507.1 L1167.4,1506.7 L1168.9,1506.3 L1170.4,1505.9 L1171.9,1505.5 L1173.4,1505.1 L1174.9,1504.7 L1176.4,1504.2 L1177.9,1503.8 L1179.4,1503.4 L1180.9,1502.9 L1182.4,1502.5 L1183.9,1502.0 L1185.4,1501.6 L1186.9,1501.1 L1188.4,1500.7 L1189.9,1500.2 L1191.4,1499.8 L1192.9,1499.3 L1194.4,1498.9 L1195.9,1498.4 L1197.4,1498.0 L1198.9,1497.5 L1200.4,1497.1 L1201.9,1496.7 L1203.4,1496.2 L1204.9,1495.8 L1206.4,1495.4 L1207.9,1495.0 L1209.4,1494.6 L1210.9,1494.3 L1212.4,1493.9 L1213.9,1493.6 L1215.4,1493.2 L1216.9,1492.9 L1218.4,1492.6 L1219.9,1492.3 L1221.4,1492.1 L1222.9,1491.8 L1224.4,1491.6 L1225.9,1491.4 L1227.4,1491.2 L1228.9,1491.0 L1230.4,1490.9 L1231.9,1490.8 L1233.4,1490.6 L1234.9,1490.6 L1236.4,1490.5 L1237.9,1490.4 L1239.4,1490.4 L1240.9,1490.4 L1242.4,1490.4 L1243.9,1490.4 L1245.4,1490.4 L1246.9,1490.5 L1248.4,1490.6 L1249.9,1490.7 L1251.4,1490.7 L1252.9,1490.9 L1254.4,1491.0 L1255.9,1491.1 L1257.4,1491.2 L1258.9,1491.4 L1260.4,1491.5 L1261.9,1491.7 L1263.4,1491.9 L1264.9,1492.0 L1266.4,1492.2 L1267.9,1492.4 L1269.4,1492.6 L1270.9,1492.7 L1272.4,1492.9 L1273.9,1493.1 L1275.4,1493.3 L1276.9,1493.5 L1278.4,1493.6 L1279.9,1493.8 L1281.4,1494.0 L1282.9,1494.1 L1284.4,1494.3 L1285.9,1494.4 L1287.4,1494.6 L1288.9,1494.7 L1290.4,1494.9 L1291.9,1495.0 L1293.4,1495.2 L1294.9,1495.3 L1296.4,1495.4 L1297.9,1495.6 L1299.4,1495.7 L1300.9,1495.8 L1302.4,1495.9 L1303.9,1496.1 L1305.4,1496.2 L1306.9,1496.3 L1308.4,1496.5 L1309.9,1496.6 L1311.4,1496.7 L1312.9,1496.9 L1314.4,1497.0 L1315.9,1497.2 L1317.4,1497.4 L1318.9,1497.6 L1320.4,1497.8 L1321.9,1498.0 L1323.4,1498.2 L1324.9,1498.4 L1326.4,1498.6 L1327.9,1498.9 L1329.4,1499.2 L1330.9,1499.5 L1332.4,1499.8 L1333.9,1500.1 L1335.4,1500.4 L1336.9,1500.8 L1338.4,1501.2 L1339.9,1501.6 L1341.4,1502.0 L1342.9,1502.4 L1344.4,1502.9 L1345.9,1503.3 L1347.4,1503.8 L1348.9,1504.3 L1350.4,1504.8 L1351.9,1505.4 L1353.4,1505.9 L1354.9,1506.5 L1356.4,1507.1 L1357.9,1507.7 L1359.4,1508.3 L1360.9,1508.9 L1362.4,1509.6 L1363.9,1510.2 L1365.4,1510.9 L1366.9,1511.6 L1368.4,1512.2 L1369.9,1512.9 L1371.4,1513.6 L1372.9,1514.3 L1374.4,1515.0 L1375.9,1515.7 L1377.4,1516.4 L1378.9,1517.1 L1380.4,1517.8 L1381.9,1518.5 L1383.4,1519.2 L1384.9,1519.9 L1386.4,1520.6 L1387.9,1521.3 L1389.4,1522.0 L1390.9,1522.7 L1392.4,1523.3 L1393.9,1524.0 L1395.4,1524.7 L1396.9,1525.4 L1398.4,1526.0 L1399.9,1526.7 L1401.4,1527.3 L1402.9,1527.9 L1404.4,1528.6 L1405.9,1529.2 L1407.4,1529.8 L1408.9,1530.4 L1410.4,1531.0 L1411.9,1531.6 L1413.4,1532.2 L1414.9,1532.8 L1416.4,1533.3 L1417.9,1533.9 L1419.4,1534.4 L1420.9,1535.0 L1422.4,1535.5 L1423.9,1536.0 L1425.4,1536.5 L1426.9,1537.1 L1428.4,1537.5 L1429.9,1538.0 L1431.4,1538.5 L1432.9,1539.0 L1434.4,1539.5 L1435.9,1539.9 L1437.4,1540.4 L1438.9,1540.8 L1440.4,1541.2 L1441.9,1541.7 L1443.4,1542.1 L1444.9,1542.5 L1446.4,1542.9 L1447.9,1543.3 L1449.4,1543.7 L1450.9,1544.1 L1452.4,1544.5 L1453.9,1544.8 L1455.4,1545.2 L1456.9,1545.5 L1458.4,1545.9 L1459.9,1546.2 L1461.4,1546.6 L1462.9,1546.9 L1464.4,1547.2 L1465.9,1547.6 L1467.4,1547.9 L1468.9,1548.2 L1470.4,1548.5 L1471.9,1548.8 L1473.4,1549.1 L1474.9,1549.4 L1476.4,1549.7 L1477.9,1550.0 L1479.4,1550.2 L1480.9,1550.5 L1482.4,1550.8 L1483.9,1551.0 L1485.4,1551.3 L1486.9,1551.5 L1488.4,1551.8 L1489.9,1552.0 L1491.4,1552.3 L1492.9,1552.5 L1494.4,1552.7 L1495.9,1553.0 L1497.4,1553.2 L1498.9,1553.4 L1500.4,1553.6 L1501.9,1553.8 L1503.4,1554.1 L1504.9,1554.3 L1506.4,1554.5 L1507.9,1554.7 L1509.4,1554.9 L1510.9,1555.1 L1512.4,1555.3 L1513.9,1555.4 L1515.4,1555.6 L1516.9,1555.8 L1518.4,1556.0 L1519.9,1556.2 L1521.4,1556.3 L1522.9,1556.5 L1524.4,1556.7 L1525.9,1556.8 L1527.4,1557.0 L1528.9,1557.2 L1530.4,1557.3 L1531.9,1557.5 L1533.4,1557.6 L1534.9,1557.8 L1536.4,1557.9 L1537.9,1558.1 L1539.4,1558.2 L1540.9,1558.4 L1542.4,1558.5 L1543.9,1558.7 L1545.4,1558.8 L1546.9,1558.9 L1548.4,1559.1 L1549.9,1559.2 L1551.4,1559.3 L1552.9,1559.5 L1554.4,1559.6 L1555.9,1559.7 L1557.4,1559.8 L1558.9,1560.0 L1560.4,1560.1 L1561.9,1560.2 L1563.4,1560.3 L1564.9,1560.5 L1566.4,1560.6 L1567.9,1560.7 L1569.4,1560.8 L1570.9,1560.9 L1572.4,1561.0 L1573.9,1561.1 L1575.4,1561.2 L1576.9,1561.4 L1578.4,1561.5 L1579.9,1561.6 L1581.4,1561.7 L1582.9,1561.8 L1584.4,1561.9 L1585.9,1562.0 L1587.4,1562.1 L1588.9,1562.2 L1590.4,1562.3 L1591.9,1562.4 L1593.4,1562.5 L1594.9,1562.6 L1596.4,1562.7 L1597.9,1562.7 L1599.4,1562.8 L1600.9,1562.9 L1602.4,1563.0 L1603.9,1563.1 L1605.4,1563.2 L1606.9,1563.3 L1608.4,1563.4 L1609.9,1563.4 L1611.4,1563.5 L1612.9,1563.6 L1614.4,1563.7 L1615.9,1563.8 L1617.4,1563.8 L1618.9,1563.9 L1620.4,1564.0 L1621.9,1564.1 L1623.4,1564.1 L1624.9,1564.2 L1626.4,1564.3 L1627.9,1564.3 L1629.4,1564.4 L1630.9,1564.5 L1632.4,1564.5 L1633.9,1564.6 L1635.4,1564.7 L1636.9,1564.7 L1638.4,1564.8 L1639.9,1564.9 L1641.4,1564.9 L1642.9,1565.0 L1644.4,1565.0 L1645.9,1565.1 L1647.4,1565.1 L1648.9,1565.2 L1650.4,1565.2 L1651.9,1565.3 L1653.4,1565.3 L1654.9,1565.4 L1656.4,1565.4 L1657.9,1565.5 L1659.4,1565.5 L1660.9,1565.6 L1662.4,1565.6 L1663.9,1565.7 L1665.4,1565.7 L1666.9,1565.7 L1668.4,1565.8 L1669.9,1565.8 L1671.4,1565.8 L1672.9,1565.9 L1674.4,1565.9 L1675.9,1565.9 L1677.4,1566.0 L1678.9,1566.0 L1680.4,1566.0 L1681.9,1566.1 L1683.4,1566.1 L1684.9,1566.1 L1686.4,1566.1 L1687.9,1566.2 L1689.4,1566.2 L1690.9,1566.2 L1692.4,1566.2 L1693.9,1566.2 L1695.4,1566.3 L1696.9,1566.3 L1698.4,1566.3 L1699.9,1566.3 L1701.4,1566.3 L1702.9,1566.3 L1704.4,1566.3 L1705.9,1566.3 L1707.4,1566.3 L1708.9,1566.3 L1710.4,1566.3 L1711.9,1566.4 L1713.4,1566.4 L1714.9,1566.4 L1716.4,1566.4 L1717.9,1566.3 L1719.4,1566.3 L1720.9,1566.3 L1722.4,1566.3 L1723.9,1566.3 L1725.4,1566.3 L1726.9,1566.3 L1728.4,1566.3 L1729.9,1566.3 L1731.4,1566.3 L1732.9,1566.2 L1734.4,1566.2 L1735.9,1566.2 L1737.4,1566.2 L1738.9,1566.1 L1740.4,1566.1 L1741.9,1566.1 L1743.4,1566.1 L1744.9,1566.0 L1746.4,1566.0 L1747.9,1566.0 L1749.4,1565.9 L1750.9,1565.9 L1752.4,1565.8 L1753.9,1565.8 L1755.4,1565.7 L1756.9,1565.7 L1758.4,1565.6 L1759.9,1565.6 L1761.4,1565.5 L1762.9,1565.5 L1764.4,1565.4 L1765.9,1565.4 L1767.4,1565.3 L1768.9,1565.2 L1770.4,1565.2 L1771.9,1565.1 L1773.4,1565.0 L1774.9,1564.9 L1776.4,1564.9 L1777.9,1564.8 L1779.4,1564.7 L1780.9,1564.6 L1782.4,1564.5 L1783.9,1564.4 L1785.4,1564.3 L1786.9,1564.2 L1788.4,1564.1 L1789.9,1564.0 L1791.4,1563.9 L1792.9,1563.8 L1794.4,1563.7 L1795.9,1563.6 L1797.4,1563.5 L1798.9,1563.4 L1800.4,1563.3 L1801.9,1563.1 L1803.4,1563.0 L1804.9,1562.9 L1806.4,1562.8 L1807.9,1562.6 L1809.4,1562.5 L1810.9,1562.4 L1812.4,1562.2 L1813.9,1562.1 L1815.4,1561.9 L1816.9,1561.8 L1818.4,1561.7 L1819.9,1561.5 L1821.4,1561.4 L1822.9,1561.2 L1824.4,1561.1 L1825.9,1560.9 L1827.4,1560.8 L1828.9,1560.6 L1830.4,1560.5 L1831.9,1560.4 L1833.4,1560.2 L1834.9,1560.1 L1836.4,1559.9 L1837.9,1559.8 L1839.4,1559.7 L1840.9,1559.5 L1842.4,1559.4 L1843.9,1559.3 L1845.4,1559.2 L1846.9,1559.1 L1848.4,1559.0 L1849.9,1558.9 L1851.4,1558.8 L1852.9,1558.7 L1854.4,1558.6 L1855.9,1558.5 L1857.4,1558.5 L1858.9,1558.4 L1860.4,1558.4 L1861.9,1558.3 L1863.4,1558.3 L1864.9,1558.3 L1866.4,1558.2 L1867.9,1558.2 L1869.4,1558.2 L1870.9,1558.3 L1872.4,1558.3 L1873.9,1558.3 L1875.4,1558.4 L1876.9,1558.4 L1878.4,1558.5 L1879.9,1558.6 L1881.4,1558.6 L1882.9,1558.7 L1884.4,1558.8 L1885.9,1558.9 L1887.4,1559.1 L1888.9,1559.2 L1890.4,1559.3 L1891.9,1559.5 L1893.4,1559.6 L1894.9,1559.8 L1896.4,1559.9 L1897.9,1560.1 L1899.4,1560.3 L1900.9,1560.4 L1902.4,1560.6 L1903.9,1560.8 L1905.4,1561.0 L1906.9,1561.2 L1908.4,1561.4 L1909.9,1561.6 L1911.4,1561.8 L1912.9,1562.0 L1914.4,1562.2 L1915.9,1562.4 L1917.4,1562.7 L1918.9,1562.9 L1920.4,1563.1 L1921.9,1563.3 L1923.4,1563.5 L1924.9,1563.7 L1926.4,1563.9 L1927.9,1564.2 L1929.4,1564.4 L1930.9,1564.6 L1932.4,1564.8 L1933.9,1565.0 L1935.4,1565.2 L1936.9,1565.4 L1938.4,1565.6 L1939.9,1565.8 L1941.4,1566.0 L1942.9,1566.2 L1944.4,1566.4 L1945.9,1566.6 L1947.4,1566.8 L1948.9,1566.9 L1950.4,1567.1 L1951.9,1567.3 L1953.4,1567.5 L1954.9,1567.6 L1956.4,1567.8 L1957.9,1568.0 L1959.4,1568.1 L1960.9,1568.3 L1962.4,1568.5 L1963.9,1568.6 L1965.4,1568.8 L1966.9,1568.9 L1968.4,1569.1 L1969.9,1569.2 L1971.4,1569.3 L1972.9,1569.5 L1974.4,1569.6 L1975.9,1569.7 L1977.4,1569.9 L1978.9,1570.0 L1980.4,1570.1 L1981.9,1570.2 L1983.4,1570.3 L1984.9,1570.5 L1986.4,1570.6 L1987.9,1570.7 L1989.4,1570.8 L1990.9,1570.9 L1992.4,1571.0 L1993.9,1571.1 L1995.4,1571.2 L1996.9,1571.3 L1998.4,1571.4 L1999.9,1571.5 L2001.4,1571.6 L2002.9,1571.7 L2004.4,1571.8 L2005.9,1571.8 L2007.4,1571.9 L2008.9,1572.0 L2010.4,1572.1 L2011.9,1572.2 L2013.4,1572.2 L2014.9,1572.3 L2016.4,1572.4 L2017.9,1572.5 L2019.4,1572.5 L2020.9,1572.6 L2022.4,1572.7 L2023.9,1572.8 L2025.4,1572.8 L2026.9,1572.9 L2028.4,1573.0 L2029.9,1573.0 L2031.4,1573.1 L2032.9,1573.2 L2034.4,1573.2 L2035.9,1573.3 L2037.4,1573.3 L2038.9,1573.4 L2040.4,1573.5 L2041.9,1573.5 L2043.4,1573.6 L2044.9,1573.6 L2046.4,1573.7 L2047.9,1573.7 L2049.4,1573.8 L2050.9,1573.9 L2052.4,1573.9 L2053.9,1574.0 L2055.4,1574.0 L2056.9,1574.1 L2058.4,1574.1 L2059.9,1574.2 L2061.4,1574.2 L2062.0,1574.3" fill="none" stroke="#ff0000" stroke-width="4.9" stroke-linejoin="round" stroke-linecap="butt"/>
<path d="M100.2,846.5 L105.0,863.6 M122.2,893.8 L141.8,905.8 M164.9,887.1 L179.9,869.6 M197.7,844.6 L218.3,834.4 M249.6,838.4 L271.6,831.4 M300.3,824.9 L316.5,841.1 M328.6,873.6 L336.9,895.0 M343.8,926.6 L351.0,948.5 M359.8,979.3 L368.2,1000.7 M376.8,1031.6 L388.1,1051.6 M404.0,1075.7 L423.2,1088.4 M453.8,1087.9 L473.8,1099.1 M489.1,1128.4 L502.4,1147.1 M514.0,1177.5 L526.0,1197.0 M539.5,1224.4 L553.5,1242.6 M573.0,1269.9 L587.7,1287.6 M604.2,1317.8 L615.8,1337.7 M630.8,1366.5 L643.0,1386.0 M659.2,1410.8 L673.5,1428.8 M693.9,1450.6 L710.7,1466.2 M737.1,1484.1 L756.9,1495.9 M787.8,1506.1 L809.2,1514.5 M841.7,1520.9 L864.3,1524.9 M896.6,1527.0 L919.5,1529.0 M951.3,1530.5 L974.2,1532.6 M1005.4,1535.5 L1028.3,1537.0 M1080.8,1537.9 L1103.7,1540.6 M1135.0,1545.0 L1154.0,1548.0 M1187.0,1553.4 L1209.7,1556.6 M1240.8,1560.4 L1263.7,1563.1 M1295.0,1565.0 L1318.0,1566.5 M1349.5,1567.3 L1372.5,1568.5 M1404.5,1569.2 L1427.5,1570.2" fill="none" stroke="#0000ff" stroke-width="4.9" stroke-linecap="butt"/>
<path d="M100.2,943.6 L103.0,956.0 M116.2,995.5 L125.8,1016.5 M144.1,1040.1 L165.9,1047.6 M188.3,1028.8 L205.2,1013.2 M236.4,995.2 L258.6,988.8 M280.0,963.0 L292.4,943.6 M300.7,912.6 L309.8,891.4 M316.8,859.4 L323.2,837.3 M330.3,805.1 L335.1,782.5 M342.6,750.9 L350.0,729.1 M361.2,700.1 L370.1,684.0 M394.1,691.2 L404.9,711.6 M413.9,743.2 L421.7,764.9 M428.0,796.0 L434.4,818.0 M439.3,852.7 L443.7,875.3 M449.4,905.3 L456.6,927.2 M460.0,957.9 L466.0,980.1 M470.0,1013.5 L477.0,1035.4 M479.7,1067.1 L487.0,1088.9 M489.6,1122.3 L497.9,1143.7 M502.9,1175.9 L511.7,1197.1 M518.9,1229.8 L527.6,1251.2 M535.7,1281.0 L546.1,1301.6 M556.3,1331.5 L568.1,1351.3 M582.0,1378.9 L595.1,1397.8 M612.8,1422.0 L629.2,1438.3 M654.6,1461.3 L673.1,1475.0 M701.3,1489.4 L721.9,1499.6 M753.1,1509.7 L774.9,1517.0 M806.4,1523.1 L828.6,1529.2 M861.1,1531.8 L883.9,1535.0 M916.5,1534.5 L939.4,1535.5 M971.7,1533.5 L994.7,1534.5 M1025.4,1535.5 L1048.3,1537.0 M1052.4,1538.5 L1075.2,1541.0 M1106.6,1544.5 L1129.4,1547.0 M1161.5,1550.4 L1184.3,1552.9 M1215.3,1557.0 L1238.2,1560.0 M1269.3,1562.4 L1292.2,1564.6 M1324.3,1565.8 L1347.2,1567.3 M1378.5,1568.0 L1401.5,1569.5 M1433.3,1570.0 L1456.2,1571.5" fill="none" stroke="#ff00ff" stroke-width="4.9" stroke-linecap="butt"/>
<path d="M100.9,931.8 L102.4,941.4 L103.9,950.8 L105.4,959.7 L106.9,968.3 L108.4,976.5 L109.9,984.4 L111.4,992.0 L112.9,999.3 L114.4,1006.2 L115.9,1012.9 L117.4,1019.3 L118.9,1025.4 L120.4,1031.2 L121.9,1036.7 L123.4,1042.0 L124.9,1047.1 L126.4,1051.9 L127.9,1056.5 L129.4,1060.9 L130.9,1065.1 L132.4,1069.1 L133.9,1072.9 L135.4,1076.5 L136.9,1079.9 L138.4,1083.2 L139.9,1086.4 L141.4,1089.3 L142.9,1092.2 L144.4,1094.9 L145.9,1097.5 L147.4,1099.9 L148.9,1102.3 L150.4,1104.5 L151.9,1106.7 L153.4,1108.7 L154.9,1110.6 L156.4,1112.5 L157.9,1114.3 L159.4,1115.9 L160.9,1117.5 L162.4,1119.1 L163.9,1120.5 L165.4,1121.9 L166.9,1123.1 L168.4,1124.3 L169.9,1125.4 L171.4,1126.5 L172.9,1127.4 L174.4,1128.3 L175.9,1129.1 L177.4,1129.8 L178.9,1130.4 L180.4,1130.9 L181.9,1131.3 L183.4,1131.7 L184.9,1131.9 L186.4,1132.0 L187.9,1132.1 L189.4,1132.0 L190.9,1131.8 L192.4,1131.5 L193.9,1131.1 L195.4,1130.6 L196.9,1130.0 L198.4,1129.3 L199.9,1128.4 L201.4,1127.5 L202.9,1126.4 L204.4,1125.2 L205.9,1123.9 L207.4,1122.5 L208.9,1121.0 L210.4,1119.3 L211.9,1117.5 L213.4,1115.6 L214.9,1113.6 L216.4,1111.5 L217.9,1109.3 L219.4,1107.0 L220.9,1104.5 L222.4,1102.0 L223.9,1099.4 L225.4,1096.6 L226.9,1093.8 L228.4,1090.8 L229.9,1087.8 L231.4,1084.7 L232.9,1081.5 L234.4,1078.2 L235.9,1074.8 L237.4,1071.4 L238.9,1067.9 L240.4,1064.4 L241.9,1060.8 L243.4,1057.1 L244.9,1053.4 L246.4,1049.7 L247.9,1045.9 L249.4,1042.2 L250.9,1038.4 L252.4,1034.6 L253.9,1030.8 L255.4,1027.0 L256.9,1023.3 L258.4,1019.5 L259.9,1015.9 L261.4,1012.2 L262.9,1008.6 L264.4,1005.1 L265.9,1001.7 L267.4,998.3 L268.9,995.1 L270.4,991.9 L271.9,988.9 L273.4,986.0 L274.9,983.2 L276.4,980.5 L277.9,978.0 L279.4,975.7 L280.9,973.5 L282.4,971.5 L283.9,969.7 L285.4,968.0 L286.9,966.6 L288.4,965.3 L289.9,964.2 L291.4,963.4 L292.9,962.7 L294.4,962.2 L295.9,962.0 L297.4,961.9 L298.9,962.1 L300.4,962.4 L301.9,963.0 L303.4,963.7 L304.9,964.6 L306.4,965.7 L307.9,967.0 L309.4,968.5 L310.9,970.2 L312.4,972.0 L313.9,973.9 L315.4,976.0 L316.9,978.3 L318.4,980.7 L319.9,983.2 L321.4,985.8 L322.9,988.5 L324.4,991.3 L325.9,994.2 L327.4,997.1 L328.9,1000.2 L330.4,1003.2 L331.9,1006.4 L333.4,1009.5 L334.9,1012.7 L336.4,1015.9 L337.9,1019.2 L339.4,1022.4 L340.9,1025.6 L342.4,1028.8 L343.9,1032.0 L345.4,1035.2 L346.9,1038.3 L348.4,1041.3 L349.9,1044.4 L351.4,1047.4 L352.9,1050.3 L354.4,1053.1 L355.9,1055.9 L357.4,1058.6 L358.9,1061.2 L360.4,1063.8 L361.9,1066.2 L363.4,1068.6 L364.9,1070.8 L366.4,1073.0 L367.9,1075.1 L369.4,1077.0 L370.9,1078.9 L372.4,1080.6 L373.9,1082.2 L375.4,1083.7 L376.9,1085.1 L378.4,1086.4 L379.9,1087.5 L381.4,1088.5 L382.9,1089.4 L384.4,1090.2 L385.9,1090.9 L387.4,1091.4 L388.9,1091.7 L390.4,1092.0 L391.9,1092.1 L393.4,1092.1 L394.9,1091.9 L396.4,1091.6 L397.9,1091.2 L399.4,1090.6 L400.9,1089.9 L402.4,1089.0 L403.9,1088.0 L405.4,1086.8 L406.9,1085.5 L408.4,1084.1 L409.9,1082.5 L411.4,1080.7 L412.9,1078.8 L414.4,1076.8 L415.9,1074.5 L417.4,1072.2 L418.9,1069.6 L420.4,1066.9 L421.9,1064.1 L423.4,1061.1 L424.9,1057.9 L426.4,1054.5 L427.9,1051.0 L429.4,1047.3 L430.9,1043.4 L432.4,1039.4 L433.9,1035.2 L435.4,1030.8 L436.9,1026.2 L438.4,1021.4 L439.9,1016.5 L441.4,1011.4 L442.9,1006.0 L444.4,1000.5 L445.9,994.8 L447.4,988.9 L448.9,982.8 L450.4,976.6 L451.9,970.1 L453.4,963.4 L454.9,956.5 L456.4,949.4 L457.9,942.1 L459.4,934.6 L460.9,926.8 L462.4,918.9 L463.9,910.8 L465.4,902.4 L466.9,893.9 L468.4,885.1 L469.9,876.1 L471.4,866.9 L472.9,857.5 L474.4,847.9 L475.9,838.1 L477.4,828.1 L478.9,817.8 L480.4,807.4 L481.9,796.8 L483.4,786.0 L484.9,774.9 L486.4,763.7 L487.9,752.4 L489.4,740.8 L490.9,729.1 L492.4,717.2 L493.9,705.2 L495.4,693.0 L496.9,680.7 L498.4,668.3 L499.9,655.8 L501.4,643.1 L502.9,630.4 L504.4,617.6 L505.9,604.7 L507.4,591.8 L508.9,578.9 L510.4,566.0 L511.9,553.0 L513.4,540.1 L514.9,527.2 L516.4,514.4 L517.9,501.7 L519.4,489.1 L520.9,476.7 L522.4,464.4 L523.9,452.3 L525.4,440.5 L526.9,428.9 L528.4,417.5 L529.9,406.5 L531.4,395.9 L532.9,385.6 L534.4,375.7 L535.9,366.3 L537.4,357.3 L538.9,348.9 L540.4,341.0 L541.9,333.7 L543.4,327.0 L544.9,320.9 L546.4,315.5 L547.9,310.8 L549.4,306.8 L550.9,303.5 L552.4,301.0 L553.9,299.2 L555.4,298.2 L556.9,298.0 L558.4,298.5 L559.9,299.8 L561.4,301.9 L562.9,304.8 L564.4,308.4 L565.9,312.8 L567.4,317.9 L568.9,323.7 L570.4,330.1 L571.9,337.3 L573.4,345.0 L574.9,353.3 L576.4,362.3 L577.9,371.7 L579.4,381.7 L580.9,392.1 L582.4,402.9 L583.9,414.2 L585.4,425.9 L586.9,437.9 L588.4,450.2 L589.9,462.8 L591.4,475.7 L592.9,488.8 L594.4,502.1 L595.9,515.6 L597.4,529.2 L598.9,543.0 L600.4,556.8 L601.9,570.8 L603.4,584.8 L604.9,598.8 L606.4,612.9 L607.9,627.0 L609.4,641.0 L610.9,655.1 L612.4,669.0 L613.9,683.0 L615.4,696.8 L616.9,710.6 L618.4,724.3 L619.9,737.8 L621.4,751.3 L622.9,764.6 L624.4,777.8 L625.9,790.8 L627.4,803.7 L628.9,816.5 L630.4,829.1 L631.9,841.5 L633.4,853.8 L634.9,865.9 L636.4,877.8 L637.9,889.5 L639.4,901.1 L640.9,912.5 L642.4,923.7 L643.9,934.7 L645.4,945.5 L646.9,956.2 L648.4,966.6 L649.9,976.9 L651.4,987.0 L652.9,996.9 L654.4,1006.7 L655.9,1016.2 L657.4,1025.6 L658.9,1034.8 L660.4,1043.8 L661.9,1052.7 L663.4,1061.4 L664.9,1069.9 L666.4,1078.2 L667.9,1086.4 L669.4,1094.4 L670.9,1102.3 L672.4,1110.0 L673.9,1117.6 L675.4,1125.0 L676.9,1132.2 L678.4,1139.3 L679.9,1146.3 L681.4,1153.1 L682.9,1159.8 L684.4,1166.3 L685.9,1172.7 L687.4,1179.0 L688.9,1185.2 L690.4,1191.2 L691.9,1197.1 L693.4,1202.9 L694.9,1208.6 L696.4,1214.1 L697.9,1219.6 L699.4,1224.9 L700.9,1230.1 L702.4,1235.2 L703.9,1240.3 L705.4,1245.2 L706.9,1250.0 L708.4,1254.7 L709.9,1259.3 L711.4,1263.9 L712.9,1268.3 L714.4,1272.7 L715.9,1276.9 L717.4,1281.1 L718.9,1285.2 L720.4,1289.2 L721.9,1293.2 L723.4,1297.0 L724.9,1300.8 L726.4,1304.5 L727.9,1308.2 L729.4,1311.8 L730.9,1315.3 L732.4,1318.7 L733.9,1322.1 L735.4,1325.4 L736.9,1328.6 L738.4,1331.8 L739.9,1334.9 L741.4,1338.0 L742.9,1341.0 L744.4,1343.9 L745.9,1346.8 L747.4,1349.6 L748.9,1352.4 L750.4,1355.1 L751.9,1357.8 L753.4,1360.4 L754.9,1363.0 L756.4,1365.5 L757.9,1368.0 L759.4,1370.5 L760.9,1372.9 L762.4,1375.2 L763.9,1377.5 L765.4,1379.8 L766.9,1382.0 L768.4,1384.2 L769.9,1386.3 L771.4,1388.4 L772.9,1390.5 L774.4,1392.5 L775.9,1394.5 L777.4,1396.5 L778.9,1398.4 L780.4,1400.3 L781.9,1402.1 L783.4,1403.9 L784.9,1405.7 L786.4,1407.5 L787.9,1409.2 L789.4,1410.9 L790.9,1412.5 L792.4,1414.1 L793.9,1415.7 L795.4,1417.3 L796.9,1418.8 L798.4,1420.4 L799.9,1421.8 L801.4,1423.3 L802.9,1424.7 L804.4,1426.1 L805.9,1427.5 L807.4,1428.9 L808.9,1430.2 L810.4,1431.5 L811.9,1432.8 L813.4,1434.1 L814.9,1435.3 L816.4,1436.5 L817.9,1437.7 L819.4,1438.9 L820.9,1440.0 L822.4,1441.2 L823.9,1442.3 L825.4,1443.4 L826.9,1444.4 L828.4,1445.5 L829.9,1446.5 L831.4,1447.5 L832.9,1448.5 L834.4,1449.5 L835.9,1450.4 L837.4,1451.4 L838.9,1452.3 L840.4,1453.2 L841.9,1454.1 L843.4,1454.9 L844.9,1455.8 L846.4,1456.6 L847.9,1457.4 L849.4,1458.2 L850.9,1459.0 L852.4,1459.8 L853.9,1460.6 L855.4,1461.3 L856.9,1462.0 L858.4,1462.8 L859.9,1463.5 L861.4,1464.1 L862.9,1464.8 L864.4,1465.5 L865.9,1466.1 L867.4,1466.8 L868.9,1467.4 L870.4,1468.0 L871.9,1468.6 L873.4,1469.2 L874.9,1469.8 L876.4,1470.4 L877.9,1470.9 L879.4,1471.5 L880.9,1472.0 L882.4,1472.5 L883.9,1473.1 L885.4,1473.6 L886.9,1474.1 L888.4,1474.6 L889.9,1475.1 L891.4,1475.6 L892.9,1476.1 L894.4,1476.6 L895.9,1477.1 L897.4,1477.5 L898.9,1478.0 L900.4,1478.5 L901.9,1479.0 L903.4,1479.4 L904.9,1479.9 L906.4,1480.4 L907.9,1480.8 L909.4,1481.3 L910.9,1481.8 L912.4,1482.2 L913.9,1482.7 L915.4,1483.2 L916.9,1483.7 L918.4,1484.1 L919.9,1484.6 L921.4,1485.1 L922.9,1485.6 L924.4,1486.1 L925.9,1486.6 L927.4,1487.1 L928.9,1487.6 L930.4,1488.1 L931.9,1488.7 L933.4,1489.2 L934.9,1489.7 L936.4,1490.2 L937.9,1490.8 L939.4,1491.3 L940.9,1491.9 L942.4,1492.4 L943.9,1493.0 L945.4,1493.6 L946.9,1494.1 L948.4,1494.7 L949.9,1495.3 L951.4,1495.9 L952.9,1496.5 L954.4,1497.1 L955.9,1497.6 L957.4,1498.2 L958.9,1498.8 L960.4,1499.4 L961.9,1500.0 L963.4,1500.6 L964.9,1501.2 L966.4,1501.8 L967.9,1502.4 L969.4,1503.0 L970.9,1503.6 L972.4,1504.2 L973.9,1504.8 L975.4,1505.4 L976.9,1506.0 L978.4,1506.6 L979.9,1507.2 L981.4,1507.8 L982.9,1508.4 L984.4,1508.9 L985.9,1509.5 L987.4,1510.1 L988.9,1510.6 L990.4,1511.2 L991.9,1511.8 L993.4,1512.3 L994.9,1512.9 L996.4,1513.4 L997.9,1513.9 L999.4,1514.5 L1000.9,1515.0 L1002.4,1515.5 L1003.9,1516.0 L1005.4,1516.5 L1006.9,1517.1 L1008.4,1517.6 L1009.9,1518.0 L1011.4,1518.5 L1012.9,1519.0 L1014.4,1519.5 L1015.9,1520.0 L1017.4,1520.4 L1018.9,1520.9 L1020.4,1521.3 L1021.9,1521.8 L1023.4,1522.2 L1024.9,1522.6 L1026.4,1523.1 L1027.9,1523.5 L1029.4,1523.9 L1030.9,1524.3 L1032.4,1524.7 L1033.9,1525.1 L1035.4,1525.5 L1036.9,1525.9 L1038.4,1526.3 L1039.9,1526.6 L1041.4,1527.0 L1042.9,1527.4 L1044.4,1527.7 L1045.9,1528.1 L1047.4,1528.4 L1048.9,1528.8 L1050.4,1529.1 L1051.9,1529.5 L1053.4,1529.8 L1054.9,1530.1 L1056.4,1530.5 L1057.9,1530.8 L1059.4,1531.1 L1060.9,1531.4 L1062.4,1531.7 L1063.9,1532.1 L1065.4,1532.4 L1066.9,1532.7 L1068.4,1533.0 L1069.9,1533.3 L1071.4,1533.6 L1072.9,1533.9 L1074.4,1534.2 L1075.9,1534.5 L1077.4,1534.8 L1078.9,1535.1 L1080.4,1535.3 L1081.9,1535.6 L1083.4,1535.9 L1084.9,1536.2 L1086.4,1536.5 L1087.9,1536.8 L1089.4,1537.0 L1090.9,1537.3 L1092.4,1537.6 L1093.9,1537.9 L1095.4,1538.1 L1096.9,1538.4 L1098.4,1538.7 L1099.9,1538.9 L1101.4,1539.2 L1102.9,1539.4 L1104.4,1539.7 L1105.9,1540.0 L1107.4,1540.2 L1108.9,1540.5 L1110.4,1540.7 L1111.9,1541.0 L1113.4,1541.2 L1114.9,1541.5 L1116.4,1541.7 L1117.9,1541.9 L1119.4,1542.2 L1120.9,1542.4 L1122.4,1542.6 L1123.9,1542.9 L1125.4,1543.1 L1126.9,1543.3 L1128.4,1543.6 L1129.9,1543.8 L1131.4,1544.0 L1132.9,1544.2 L1134.4,1544.4 L1135.9,1544.7 L1137.4,1544.9 L1138.9,1545.1 L1140.4,1545.3 L1141.9,1545.5 L1143.4,1545.7 L1144.9,1545.9 L1146.4,1546.1 L1147.9,1546.3 L1149.4,1546.5 L1150.9,1546.7 L1152.4,1546.9 L1153.9,1547.1 L1155.4,1547.2 L1156.9,1547.4 L1158.4,1547.6 L1159.9,1547.8 L1161.4,1548.0 L1162.9,1548.2 L1164.4,1548.3 L1165.9,1548.5 L1167.4,1548.7 L1168.9,1548.8 L1170.4,1549.0 L1171.9,1549.2 L1173.4,1549.3 L1174.9,1549.5 L1176.4,1549.7 L1177.9,1549.8 L1179.4,1550.0 L1180.9,1550.1 L1182.4,1550.3 L1183.9,1550.4 L1185.4,1550.6 L1186.9,1550.7 L1188.4,1550.9 L1189.9,1551.0 L1191.4,1551.1 L1192.9,1551.3 L1194.4,1551.4 L1195.9,1551.6 L1197.4,1551.7 L1198.9,1551.8 L1200.4,1552.0 L1201.9,1552.1 L1203.4,1552.2 L1204.9,1552.3 L1206.4,1552.5 L1207.9,1552.6 L1209.4,1552.7 L1210.9,1552.8 L1212.4,1553.0 L1213.9,1553.1 L1215.4,1553.2 L1216.9,1553.3 L1218.4,1553.4 L1219.9,1553.5 L1221.4,1553.6 L1222.9,1553.8 L1224.4,1553.9 L1225.9,1554.0 L1227.4,1554.1 L1228.9,1554.2 L1230.4,1554.3 L1231.9,1554.4 L1233.4,1554.5 L1234.9,1554.6 L1236.4,1554.7 L1237.9,1554.8 L1239.4,1554.9 L1240.9,1555.0 L1242.4,1555.1 L1243.9,1555.2 L1245.4,1555.3 L1246.9,1555.4 L1248.4,1555.5 L1249.9,1555.6 L1251.4,1555.7 L1252.9,1555.8 L1254.4,1555.9 L1255.9,1556.0 L1257.4,1556.1 L1258.9,1556.2 L1260.4,1556.3 L1261.9,1556.3 L1263.4,1556.4 L1264.9,1556.5 L1266.4,1556.6 L1267.9,1556.7 L1269.4,1556.8 L1270.9,1556.9 L1272.4,1557.0 L1273.9,1557.1 L1275.4,1557.1 L1276.9,1557.2 L1278.4,1557.3 L1279.9,1557.4 L1281.4,1557.5 L1282.9,1557.6 L1284.4,1557.7 L1285.9,1557.8 L1287.4,1557.8 L1288.7,1557.9" fill="none" stroke="#008000" stroke-width="4.9" stroke-linejoin="round" stroke-linecap="butt"/>
<path d="M100.9,868.8 L102.4,868.2 L103.9,867.3 L105.4,866.3 L106.9,865.1 L108.4,863.7 L109.9,862.0 L111.4,860.2 L112.9,858.2 L114.4,856.0 L115.9,853.6 L117.4,851.1 L118.9,848.3 L120.4,845.4 L121.9,842.3 L123.4,839.0 L124.9,835.6 L126.4,832.0 L127.9,828.3 L129.4,824.4 L130.9,820.4 L132.4,816.2 L133.9,811.9 L135.4,807.5 L136.9,803.0 L138.4,798.4 L139.9,793.7 L141.4,788.9 L142.9,784.0 L144.4,779.0 L145.9,774.0 L147.4,768.9 L148.9,763.9 L150.4,758.7 L151.9,753.6 L153.4,748.4 L154.9,743.3 L156.4,738.1 L157.9,733.0 L159.4,728.0 L160.9,722.9 L162.4,717.9 L163.9,713.0 L165.4,708.2 L166.9,703.4 L168.4,698.7 L169.9,694.1 L171.4,689.6 L172.9,685.3 L174.4,681.0 L175.9,676.8 L177.4,672.8 L178.9,668.9 L180.4,665.1 L181.9,661.4 L183.4,657.8 L184.9,654.4 L186.4,651.1 L187.9,647.9 L189.4,644.8 L190.9,641.8 L192.4,639.0 L193.9,636.3 L195.4,633.7 L196.9,631.2 L198.4,628.8 L199.9,626.5 L201.4,624.4 L202.9,622.4 L204.4,620.5 L205.9,618.7 L207.4,617.1 L208.9,615.6 L210.4,614.3 L211.9,613.1 L213.4,612.1 L214.9,611.3 L216.4,610.7 L217.9,610.3 L219.4,610.1 L220.9,610.2 L222.4,610.5 L223.9,611.1 L225.4,611.9 L226.9,613.1 L228.4,614.5 L229.9,616.3 L231.4,618.4 L232.9,620.8 L234.4,623.5 L235.9,626.5 L237.4,629.9 L238.9,633.7 L240.4,637.7 L241.9,642.1 L243.4,646.7 L244.9,651.7 L246.4,657.0 L247.9,662.6 L249.4,668.4 L250.9,674.6 L252.4,680.9 L253.9,687.6 L255.4,694.4 L256.9,701.5 L258.4,708.8 L259.9,716.2 L261.4,723.9 L262.9,731.8 L264.4,739.8 L265.9,748.0 L267.4,756.3 L268.9,764.8 L270.4,773.4 L271.9,782.1 L273.4,791.0 L274.9,799.9 L276.4,809.0 L277.9,818.1 L279.4,827.3 L280.9,836.5 L282.4,845.8 L283.9,855.2 L285.4,864.5 L286.9,873.9 L288.4,883.3 L289.9,892.6 L291.4,901.9 L292.9,911.2 L294.4,920.5 L295.9,929.6 L297.4,938.7 L298.9,947.7 L300.4,956.7 L301.9,965.5 L303.4,974.2 L304.9,982.8 L306.4,991.3 L307.9,999.7 L309.4,1007.9 L310.9,1016.1 L312.4,1024.0 L313.9,1031.9 L315.4,1039.6 L316.9,1047.2 L318.4,1054.6 L319.9,1061.9 L321.4,1069.1 L322.9,1076.2 L324.4,1083.1 L325.9,1089.9 L327.4,1096.6 L328.9,1103.1 L330.4,1109.5 L331.9,1115.9 L333.4,1122.1 L334.9,1128.2 L336.4,1134.2 L337.9,1140.1 L339.4,1145.9 L340.9,1151.6 L342.4,1157.2 L343.9,1162.7 L345.4,1168.1 L346.9,1173.5 L348.4,1178.8 L349.9,1184.0 L351.4,1189.1 L352.9,1194.1 L354.4,1199.1 L355.9,1204.0 L357.4,1208.9 L358.9,1213.6 L360.4,1218.4 L361.9,1223.0 L363.4,1227.6 L364.9,1232.1 L366.4,1236.6 L367.9,1241.0 L369.4,1245.4 L370.9,1249.7 L372.4,1254.0 L373.9,1258.1 L375.4,1262.3 L376.9,1266.4 L378.4,1270.4 L379.9,1274.4 L381.4,1278.3 L382.9,1282.2 L384.4,1286.0 L385.9,1289.7 L387.4,1293.5 L388.9,1297.1 L390.4,1300.7 L391.9,1304.3 L393.4,1307.8 L394.9,1311.3 L396.4,1314.7 L397.9,1318.0 L399.4,1321.3 L400.9,1324.6 L402.4,1327.8 L403.9,1331.0 L405.4,1334.1 L406.9,1337.1 L408.4,1340.2 L409.9,1343.1 L411.4,1346.1 L412.9,1348.9 L414.4,1351.8 L415.9,1354.6 L417.4,1357.3 L418.9,1360.0 L420.4,1362.7 L421.9,1365.3 L423.4,1367.9 L424.9,1370.4 L426.4,1372.9 L427.9,1375.3 L429.4,1377.7 L430.9,1380.1 L432.4,1382.5 L433.9,1384.8 L435.4,1387.0 L436.9,1389.2 L438.4,1391.4 L439.9,1393.6 L441.4,1395.7 L442.9,1397.8 L444.4,1399.8 L445.9,1401.9 L447.4,1403.8 L448.9,1405.8 L450.4,1407.7 L451.9,1409.6 L453.4,1411.5 L454.9,1413.3 L456.4,1415.1 L457.9,1416.9 L459.4,1418.6 L460.9,1420.3 L462.4,1422.0 L463.9,1423.7 L465.4,1425.3 L466.9,1427.0 L468.4,1428.5 L469.9,1430.1 L471.4,1431.6 L472.9,1433.2 L474.4,1434.6 L475.9,1436.1 L477.4,1437.6 L478.9,1439.0 L480.4,1440.4 L481.9,1441.8 L483.4,1443.1 L484.9,1444.5 L486.4,1445.8 L487.9,1447.1 L489.4,1448.4 L490.9,1449.6 L492.4,1450.9 L493.9,1452.1 L495.4,1453.3 L496.9,1454.5 L498.4,1455.6 L499.9,1456.8 L501.4,1457.9 L502.9,1459.1 L504.4,1460.2 L505.9,1461.2 L507.4,1462.3 L508.9,1463.4 L510.4,1464.4 L511.9,1465.4 L513.4,1466.5 L514.9,1467.5 L516.4,1468.4 L517.9,1469.4 L519.4,1470.4 L520.9,1471.3 L522.4,1472.3 L523.9,1473.2 L525.4,1474.1 L526.9,1475.0 L528.4,1475.9 L529.9,1476.8 L531.4,1477.6 L532.9,1478.5 L534.4,1479.3 L535.9,1480.2 L537.4,1481.0 L538.9,1481.8 L540.4,1482.6 L541.9,1483.4 L543.4,1484.2 L544.9,1484.9 L546.4,1485.7 L547.9,1486.5 L549.4,1487.2 L550.9,1488.0 L552.4,1488.7 L553.9,1489.4 L555.4,1490.1 L556.9,1490.8 L558.4,1491.5 L559.9,1492.2 L561.4,1492.9 L562.9,1493.6 L564.4,1494.3 L565.9,1494.9 L567.4,1495.6 L568.9,1496.2 L570.4,1496.9 L571.9,1497.5 L573.4,1498.1 L574.9,1498.7 L576.4,1499.3 L577.9,1499.9 L579.4,1500.5 L580.9,1501.1 L582.4,1501.7 L583.9,1502.3 L585.4,1502.9 L586.9,1503.4 L588.4,1504.0 L589.9,1504.6 L591.4,1505.1 L592.9,1505.6 L594.4,1506.2 L595.9,1506.7 L597.4,1507.2 L598.9,1507.7 L600.4,1508.3 L601.9,1508.8 L603.4,1509.3 L604.9,1509.7 L606.4,1510.2 L607.9,1510.7 L609.4,1511.2 L610.9,1511.7 L612.4,1512.1 L613.9,1512.6 L615.4,1513.0 L616.9,1513.5 L618.4,1513.9 L619.9,1514.3 L621.4,1514.8 L622.9,1515.2 L624.4,1515.6 L625.9,1516.0 L627.4,1516.4 L628.9,1516.8 L630.4,1517.2 L631.9,1517.6 L633.4,1518.0 L634.9,1518.4 L636.4,1518.7 L637.9,1519.1 L639.4,1519.5 L640.9,1519.8 L642.4,1520.2 L643.9,1520.5 L645.4,1520.9 L646.9,1521.2 L648.4,1521.5 L649.9,1521.8 L651.4,1522.2 L652.9,1522.5 L654.4,1522.8 L655.9,1523.1 L657.4,1523.4 L658.9,1523.7 L660.4,1524.0 L661.9,1524.3 L663.4,1524.5 L664.9,1524.8 L666.4,1525.1 L667.9,1525.4 L669.4,1525.6 L670.9,1525.9 L672.4,1526.1 L673.9,1526.4 L675.4,1526.6 L676.9,1526.8 L678.4,1527.1 L679.9,1527.3 L681.4,1527.5 L682.9,1527.7 L684.4,1528.0 L685.9,1528.2 L687.4,1528.4 L688.9,1528.6 L690.4,1528.8 L691.9,1529.0 L693.4,1529.1 L694.9,1529.3 L696.4,1529.5 L697.9,1529.7 L699.4,1529.9 L700.9,1530.0 L702.4,1530.2 L703.9,1530.4 L705.4,1530.5 L706.9,1530.7 L708.4,1530.8 L709.9,1531.0 L711.4,1531.1 L712.9,1531.3 L714.4,1531.4 L715.9,1531.6 L717.4,1531.7 L718.9,1531.9 L720.4,1532.0 L721.9,1532.2 L723.4,1532.3 L724.9,1532.4 L726.4,1532.6 L727.9,1532.7 L729.4,1532.9 L730.9,1533.0 L732.4,1533.2 L733.9,1533.4 L735.4,1533.5 L736.9,1533.7 L738.4,1533.9 L739.9,1534.0 L741.4,1534.2 L742.9,1534.4 L744.4,1534.6 L745.9,1534.8 L747.4,1535.0 L748.9,1535.2 L750.4,1535.4 L751.9,1535.7 L753.4,1535.9 L754.9,1536.1 L756.4,1536.4 L757.9,1536.6 L759.4,1536.9 L760.9,1537.1 L762.4,1537.4 L763.9,1537.7 L765.4,1537.9 L766.9,1538.2 L768.4,1538.5 L769.9,1538.8 L771.4,1539.1 L772.9,1539.4 L774.4,1539.7 L775.9,1540.0 L777.4,1540.3 L778.9,1540.6 L780.4,1540.9 L781.9,1541.2 L783.4,1541.5 L784.9,1541.8 L786.4,1542.1 L787.9,1542.4 L789.4,1542.7 L790.9,1543.0 L792.4,1543.3 L793.9,1543.6 L795.4,1543.9 L796.9,1544.2 L798.4,1544.5 L799.9,1544.8 L801.4,1545.1 L802.9,1545.4 L804.4,1545.7 L805.9,1545.9 L807.4,1546.2 L808.9,1546.5 L810.4,1546.8 L811.9,1547.0 L813.4,1547.3 L814.9,1547.5 L816.4,1547.8 L817.9,1548.1 L819.4,1548.3 L820.9,1548.6 L822.4,1548.8 L823.9,1549.1 L825.4,1549.3 L826.9,1549.5 L828.4,1549.8 L829.9,1550.0 L831.4,1550.2 L832.9,1550.4 L834.4,1550.7 L835.9,1550.9 L837.4,1551.1 L838.9,1551.3 L840.4,1551.5 L841.9,1551.7 L843.4,1552.0 L844.9,1552.2 L846.4,1552.4 L847.9,1552.6 L849.4,1552.8 L850.9,1552.9 L852.4,1553.1 L853.9,1553.3 L855.4,1553.5 L856.9,1553.7 L858.4,1553.9 L859.9,1554.1 L861.4,1554.2 L862.9,1554.4 L864.4,1554.6 L865.9,1554.8 L867.4,1554.9 L868.9,1555.1 L870.4,1555.3 L871.9,1555.4 L873.4,1555.6 L874.9,1555.7 L876.4,1555.9 L877.9,1556.1 L879.4,1556.2 L880.9,1556.4 L882.4,1556.5 L883.9,1556.7 L885.4,1556.8 L886.9,1557.0 L888.4,1557.1 L889.9,1557.2 L891.4,1557.4 L892.9,1557.5 L894.4,1557.7 L895.9,1557.8 L897.4,1557.9 L898.9,1558.0 L900.4,1558.2 L901.9,1558.3 L903.4,1558.4 L904.9,1558.5 L906.4,1558.7 L907.9,1558.8 L909.4,1558.9 L910.9,1559.0 L912.4,1559.1 L913.9,1559.2 L915.4,1559.4 L916.9,1559.5 L918.4,1559.6 L919.9,1559.7 L921.4,1559.8 L922.9,1559.9 L924.4,1560.0 L925.9,1560.1 L927.4,1560.2 L928.9,1560.2 L930.4,1560.3 L931.9,1560.4 L933.4,1560.5 L934.9,1560.6 L936.4,1560.7 L937.9,1560.8 L939.4,1560.8 L940.9,1560.9 L942.4,1561.0 L943.9,1561.1 L945.4,1561.1 L946.9,1561.2 L948.4,1561.3 L949.9,1561.3 L951.4,1561.4 L952.9,1561.4 L954.4,1561.5 L955.9,1561.6 L957.4,1561.6 L958.9,1561.7 L960.4,1561.7 L961.9,1561.8 L963.4,1561.8 L964.9,1561.9 L966.4,1561.9 L967.9,1562.0 L969.4,1562.0 L970.9,1562.1 L972.4,1562.1 L973.9,1562.2 L975.4,1562.2 L976.9,1562.3 L978.4,1562.3 L979.9,1562.4 L981.4,1562.4 L982.9,1562.5 L984.4,1562.5 L985.9,1562.6 L987.4,1562.7 L988.9,1562.7 L990.4,1562.8 L991.9,1562.9 L993.4,1562.9 L994.9,1563.0 L996.4,1563.1 L997.9,1563.2 L999.4,1563.3 L1000.9,1563.4 L1002.4,1563.4 L1003.9,1563.5 L1005.4,1563.7 L1006.9,1563.8 L1008.4,1563.9 L1009.5,1564.0" fill="none" stroke="#000080" stroke-width="4.9" stroke-linejoin="round" stroke-linecap="butt"/>
<path d="M100.9,1055.8 L102.4,1062.9 L103.9,1070.0 L105.4,1077.1 L106.9,1084.3 L108.4,1091.5 L109.9,1098.7 L111.4,1106.0 L112.9,1113.2 L114.4,1120.3 L115.9,1127.5 L117.4,1134.6 L118.9,1141.7 L120.4,1148.6 L121.9,1155.6 L123.4,1162.4 L124.9,1169.1 L126.4,1175.8 L127.9,1182.4 L129.4,1188.9 L130.9,1195.2 L132.4,1201.5 L133.9,1207.7 L135.4,1213.7 L136.9,1219.6 L138.4,1225.5 L139.9,1231.2 L141.4,1236.8 L142.9,1242.3 L144.4,1247.7 L145.9,1252.9 L147.4,1258.1 L148.9,1263.1 L150.4,1268.0 L151.9,1272.9 L153.4,1277.6 L154.9,1282.2 L156.4,1286.7 L157.9,1291.1 L159.4,1295.4 L160.9,1299.5 L162.4,1303.6 L163.9,1307.6 L165.4,1311.5 L166.9,1315.4 L168.4,1319.1 L169.9,1322.7 L171.4,1326.2 L172.9,1329.7 L174.4,1333.1 L175.9,1336.4 L177.4,1339.6 L178.9,1342.8 L180.4,1345.8 L181.9,1348.8 L183.4,1351.8 L184.9,1354.6 L186.4,1357.4 L187.9,1360.2 L189.4,1362.9 L190.9,1365.5 L192.4,1368.0 L193.9,1370.5 L195.4,1373.0 L196.9,1375.4 L198.4,1377.8 L199.9,1380.1 L201.4,1382.3 L202.9,1384.5 L204.4,1386.7 L205.9,1388.8 L207.4,1390.9 L208.9,1393.0 L210.4,1395.0 L211.9,1397.0 L213.4,1398.9 L214.9,1400.8 L216.4,1402.7 L217.9,1404.5 L219.4,1406.4 L220.9,1408.2 L222.4,1409.9 L223.9,1411.7 L225.4,1413.4 L226.9,1415.1 L228.4,1416.7 L229.9,1418.4 L231.4,1420.0 L232.9,1421.6 L234.4,1423.2 L235.9,1424.8 L237.4,1426.3 L238.9,1427.8 L240.4,1429.3 L241.9,1430.8 L243.4,1432.3 L244.9,1433.8 L246.4,1435.2 L247.9,1436.7 L249.4,1438.1 L250.9,1439.5 L252.4,1440.9 L253.9,1442.3 L255.4,1443.6 L256.9,1445.0 L258.4,1446.3 L259.9,1447.6 L261.4,1449.0 L262.9,1450.3 L264.4,1451.6 L265.9,1452.8 L267.4,1454.1 L268.9,1455.4 L270.4,1456.6 L271.9,1457.9 L273.4,1459.1 L274.9,1460.3 L276.4,1461.5 L277.9,1462.7 L279.4,1463.9 L280.9,1465.1 L282.4,1466.2 L283.9,1467.4 L285.4,1468.5 L286.9,1469.6 L288.4,1470.8 L289.9,1471.9 L291.4,1473.0 L292.9,1474.1 L294.4,1475.1 L295.9,1476.2 L297.4,1477.3 L298.9,1478.3 L300.4,1479.4 L301.9,1480.4 L303.4,1481.4 L304.9,1482.4 L306.4,1483.4 L307.9,1484.4 L309.4,1485.4 L310.9,1486.3 L312.4,1487.3 L313.9,1488.2 L315.4,1489.2 L316.9,1490.1 L318.4,1491.0 L319.9,1491.9 L321.4,1492.8 L322.9,1493.7 L324.4,1494.6 L325.9,1495.5 L327.4,1496.3 L328.9,1497.2 L330.4,1498.0 L331.9,1498.8 L333.4,1499.6 L334.9,1500.5 L336.4,1501.3 L337.9,1502.0 L339.4,1502.8 L340.9,1503.6 L342.4,1504.4 L343.9,1505.1 L345.4,1505.9 L346.9,1506.6 L348.4,1507.3 L349.9,1508.0 L351.4,1508.7 L352.9,1509.5 L354.4,1510.1 L355.9,1510.8 L357.4,1511.5 L358.9,1512.2 L360.4,1512.8 L361.9,1513.5 L363.4,1514.1 L364.9,1514.8 L366.4,1515.4 L367.9,1516.0 L369.4,1516.6 L370.9,1517.2 L372.4,1517.8 L373.9,1518.4 L375.4,1519.0 L376.9,1519.6 L378.4,1520.1 L379.9,1520.7 L381.4,1521.2 L382.9,1521.8 L384.4,1522.3 L385.9,1522.8 L387.4,1523.4 L388.9,1523.9 L390.4,1524.4 L391.9,1524.9 L393.4,1525.4 L394.9,1525.9 L396.4,1526.4 L397.9,1526.8 L399.4,1527.3 L400.9,1527.8 L402.4,1528.2 L403.9,1528.7 L405.4,1529.1 L406.9,1529.6 L408.4,1530.0 L409.9,1530.5 L411.4,1530.9 L412.9,1531.3 L414.4,1531.7 L415.9,1532.1 L417.4,1532.5 L418.9,1532.9 L420.4,1533.3 L421.9,1533.7 L423.4,1534.1 L424.9,1534.5 L426.4,1534.8 L427.9,1535.2 L429.4,1535.6 L430.9,1535.9 L432.4,1536.3 L433.9,1536.6 L435.4,1537.0 L436.9,1537.3 L438.4,1537.6 L439.9,1538.0 L441.4,1538.3 L442.9,1538.6 L443.0,1538.7" fill="none" stroke="#8000ff" stroke-width="4.9" stroke-linejoin="round" stroke-linecap="butt"/>
</g>
<g id="axis">
<path d="M101.0,1616.4 L101.0,1585.6 L2061.8,1585.6 L2061.8,1600.8" fill="none" stroke="#000" stroke-width="5.4" stroke-linejoin="round" stroke-linecap="butt"/>
<line x1="381.2" y1="1585.6" x2="381.2" y2="1600.8" stroke="#000" stroke-width="5.4"/>
<line x1="661.5" y1="1585.6" x2="661.5" y2="1616.4" stroke="#000" stroke-width="5.4"/>
<line x1="941.7" y1="1585.6" x2="941.7" y2="1600.8" stroke="#000" stroke-width="5.4"/>
<line x1="1221.9" y1="1585.6" x2="1221.9" y2="1616.4" stroke="#000" stroke-width="5.4"/>
<line x1="1502.2" y1="1585.6" x2="1502.2" y2="1600.8" stroke="#000" stroke-width="5.4"/>
<line x1="1782.4" y1="1585.6" x2="1782.4" y2="1616.4" stroke="#000" stroke-width="5.4"/>
<text transform="translate(101.3,1703.4) scale(1,1.025)" text-anchor="middle" font-size="83">200</text>
<text transform="translate(661.8,1703.4) scale(1,1.025)" text-anchor="middle" font-size="83">300</text>
<text transform="translate(1222.2,1703.4) scale(1,1.025)" text-anchor="middle" font-size="83">400</text>
<text transform="translate(1782.7,1703.4) scale(1,1.025)" text-anchor="middle" font-size="83">500</text>
<text transform="translate(900.5,1806.5) scale(1.15,1)" font-family="'Noto Serif CJK SC', 'Liberation Serif', serif" font-size="82.5" stroke="#000" stroke-width="1.3" stroke-linejoin="round">λ</text><text x="953.5" y="1807" font-size="98">,<tspan dx="-2"> nm</tspan></text>
</g>
<g id="annotation">
<text transform="translate(307.2,471.4) scale(1,1.02)" text-anchor="middle" font-size="83" fill="#000080">221.39</text>
<text transform="translate(302.6,572.1) scale(1,1.02)" text-anchor="middle" font-size="83" fill="#000080">(~200)</text>
</g>
<g id="legend">
<rect x="1113.0" y="43.7" width="855.5" height="962.9" fill="#fff" stroke="#1c1c1c" stroke-width="3.1"/>
<line x1="1123.6" y1="110.8" x2="1307.3" y2="110.8" stroke="#000000" stroke-width="5.1000000000000005"/>
<text x="1329.3" y="138.3" font-size="83">[AuI<tspan font-size="49" dy="28.4">4</tspan><tspan dy="-28.4" font-size="1">&#8203;</tspan>]<tspan font-size="48" dy="-41.8" dx="0.5">−</tspan></text>
<line x1="1123.6" y1="247.2" x2="1307.3" y2="247.2" stroke="#ff0000" stroke-width="5.1000000000000005"/>
<text x="1329.3" y="274.8" font-size="83">[AuI<tspan font-size="49" dy="28.4">3</tspan><tspan dy="-28.4" font-size="1">&#8203;</tspan>(OH)]<tspan font-size="48" dy="-41.8" dx="0.5">−</tspan></text>
<line x1="1123.6" y1="383.7" x2="1307.3" y2="383.7" stroke="#0000ff" stroke-width="5.1000000000000005" stroke-dasharray="23 32" stroke-dashoffset="7.5"/>
<text x="1331.2" y="411.2" font-size="83"><tspan letter-spacing="-0.75"><tspan font-style="italic">cis</tspan>-I-</tspan><tspan letter-spacing="-0.2">[AuI<tspan font-size="49" dy="28.4">2</tspan><tspan dy="-28.4" font-size="1">&#8203;</tspan>(OH)<tspan font-size="49" dy="28.4">2</tspan><tspan dy="-28.4" font-size="1">&#8203;</tspan>]</tspan><tspan font-size="48" dy="-41.8" dx="0.5">−</tspan></text>
<line x1="1123.6" y1="520.1" x2="1307.3" y2="520.1" stroke="#ff00ff" stroke-width="5.1000000000000005" stroke-dasharray="23 32" stroke-dashoffset="7.5"/>
<text x="1331.2" y="547.6" font-size="83"><tspan letter-spacing="-0.75"><tspan font-style="italic">cis</tspan>-II-</tspan><tspan letter-spacing="-0.2">[AuI<tspan font-size="49" dy="28.4">2</tspan><tspan dy="-28.4" font-size="1">&#8203;</tspan>(OH)<tspan font-size="49" dy="28.4">2</tspan><tspan dy="-28.4" font-size="1">&#8203;</tspan>]</tspan><tspan font-size="48" dy="-41.8" dx="0.5">−</tspan></text>
<line x1="1123.6" y1="656.6" x2="1307.3" y2="656.6" stroke="#008000" stroke-width="5.1000000000000005"/>
<text x="1326.1" y="684.1" font-size="83"><tspan letter-spacing="-0.75"><tspan font-style="italic">trans</tspan>-</tspan><tspan letter-spacing="-0.2">[AuI<tspan font-size="49" dy="28.4">2</tspan><tspan dy="-28.4" font-size="1">&#8203;</tspan>(OH)<tspan font-size="49" dy="28.4">2</tspan><tspan dy="-28.4" font-size="1">&#8203;</tspan>]</tspan><tspan font-size="48" dy="-41.8" dx="0.5">−</tspan></text>
<line x1="1123.6" y1="793.0" x2="1307.3" y2="793.0" stroke="#000080" stroke-width="5.1000000000000005"/>
<text x="1329.3" y="820.5" font-size="83">[AuI(OH)<tspan font-size="49" dy="28.4">3</tspan><tspan dy="-28.4" font-size="1">&#8203;</tspan>]<tspan font-size="48" dy="-41.8" dx="0.5">−</tspan></text>
<line x1="1123.6" y1="929.5" x2="1307.3" y2="929.5" stroke="#8000ff" stroke-width="5.1000000000000005"/>
<text x="1329.3" y="957.0" font-size="83">[Au(OH)<tspan font-size="49" dy="28.4">4</tspan><tspan dy="-28.4" font-size="1">&#8203;</tspan>]<tspan font-size="48" dy="-41.8" dx="0.5">−</tspan></text>
</g>
</svg>
</body>
</html>
